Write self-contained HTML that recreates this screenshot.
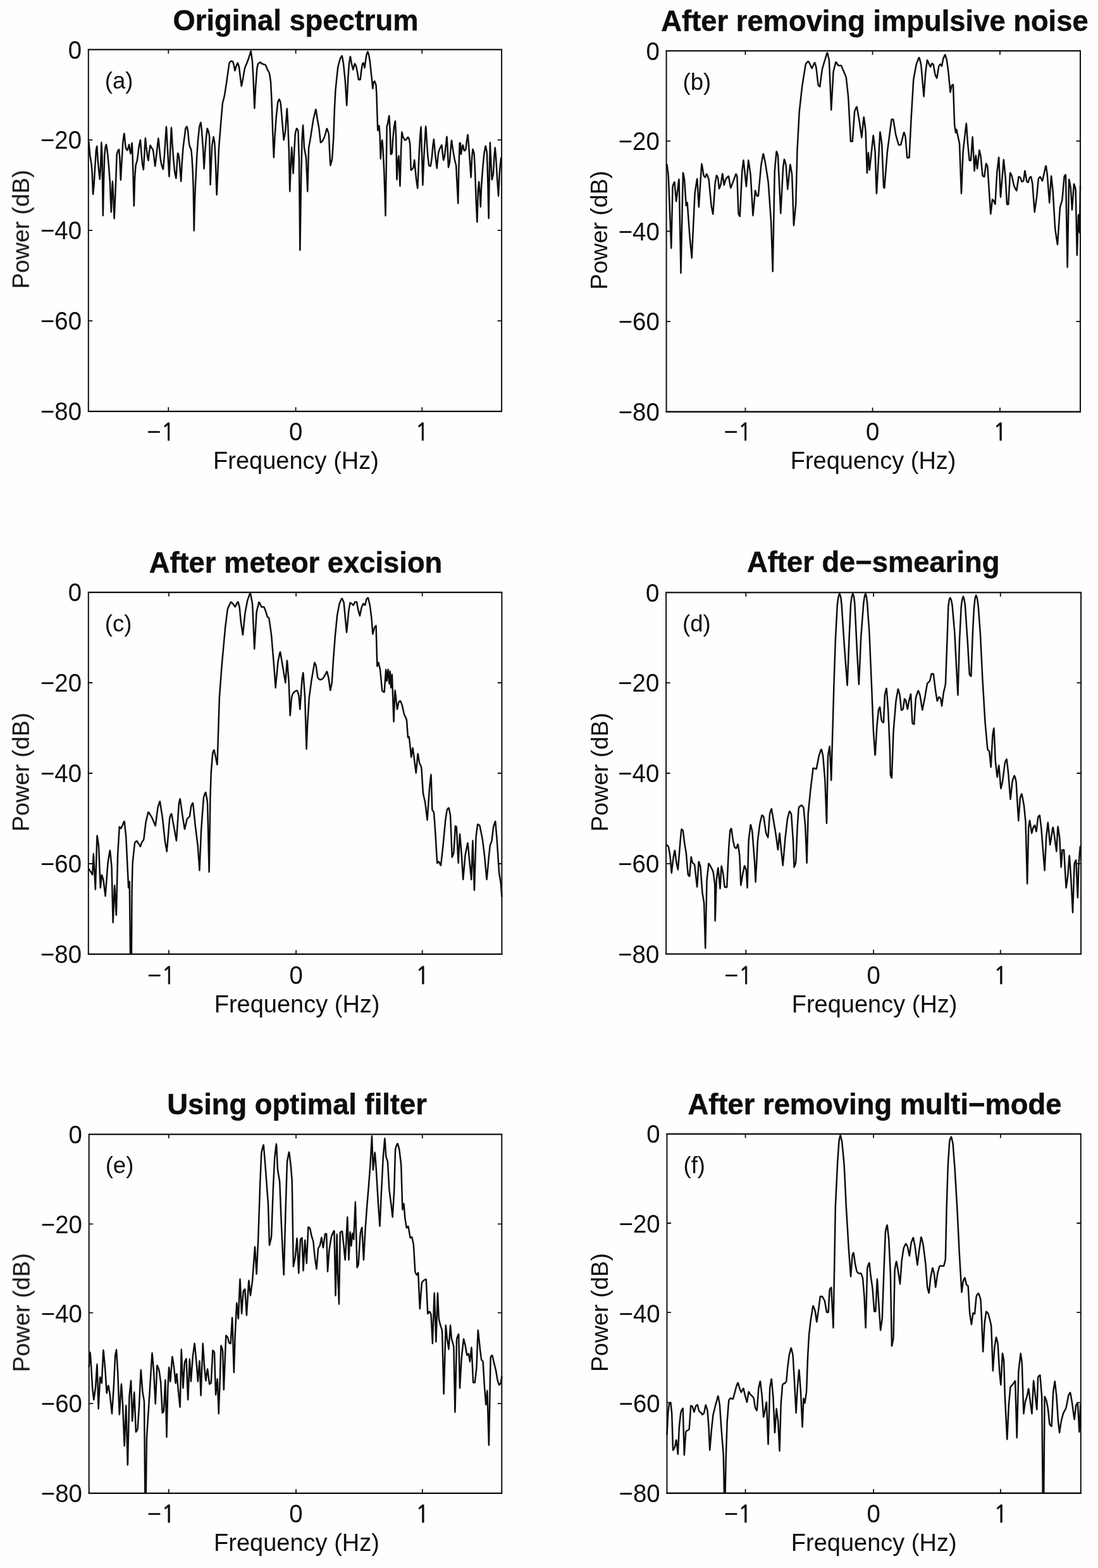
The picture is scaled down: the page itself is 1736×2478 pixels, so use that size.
<!DOCTYPE html>
<html lang="en"><head><meta charset="utf-8"><title>Spectra</title>
<style>
html,body{margin:0;padding:0;background:#fefefe;}
body{width:1736px;height:2478px;overflow:hidden;}
svg{display:block;font-family:"Liberation Sans",sans-serif;fill:#0e0e0e;}
.t{font-weight:bold;font-size:45.35px;text-anchor:middle;stroke:#0e0e0e;stroke-width:0.5px;}
.k{font-size:40px;}
.one{font-family:"NanumGothic","Liberation Sans",sans-serif;stroke:#0e0e0e;stroke-width:0.8px;font-size:37px;}
.l{font-size:38px;text-anchor:middle;}
.bx{fill:none;stroke:#0e0e0e;stroke-width:2.5;}
.tk{stroke:#0e0e0e;stroke-width:1.8;fill:none;}
.cv{fill:none;stroke:#0e0e0e;stroke-width:2.5;stroke-linejoin:round;stroke-linecap:round;}
</style></head><body>
<svg width="1736" height="2478" viewBox="0 0 1736 2478">
<defs><filter id="soft" x="0" y="0" width="1736" height="2478" filterUnits="userSpaceOnUse"><feGaussianBlur stdDeviation="0.5"/></filter></defs>
<rect width="1736" height="2478" fill="#fefefe"/>
<g filter="url(#soft)">

<g id="panel-a">
<text class="t" x="467.5" y="47.5">Original spectrum</text>
<path class="bx" style="stroke-width:2.35" d="M138.8 78.3H794.1M138.8 650.1H794.1"/>
<path class="bx" style="stroke-width:2.0" d="M139.8 78.3V650.1M793.1 78.3V650.1"/>
<path class="tk" d="M139.8 221.2h6.5M793.1 221.2h-6.5M139.8 364.2h6.5M793.1 364.2h-6.5M139.8 507.2h6.5M793.1 507.2h-6.5M266.3 78.3v6.5M266.3 650.1v-6.5M467.6 78.3v6.5M467.6 650.1v-6.5M667.3 78.3v6.5M667.3 650.1v-6.5"/>
<text class="k" text-anchor="end" transform="translate(129.0 92.5) scale(0.96 1)">0</text>
<text class="k" text-anchor="end" transform="translate(129.0 235.4) scale(0.96 1)">−20</text>
<text class="k" text-anchor="end" transform="translate(129.0 378.4) scale(0.96 1)">−40</text>
<text class="k" text-anchor="end" transform="translate(129.0 521.4) scale(0.96 1)">−60</text>
<text class="k" text-anchor="end" transform="translate(129.0 664.3) scale(0.96 1)">−80</text>
<text class="k" text-anchor="middle" transform="translate(254.3 695.6) scale(0.96 1)">−<tspan class="one">1</tspan></text>
<text class="k" text-anchor="middle" transform="translate(467.6 695.6) scale(0.96 1)">0</text>
<text class="k" text-anchor="middle" transform="translate(667.3 695.6) scale(0.96 1)"><tspan class="one">1</tspan></text>
<text class="l" x="468.0" y="740.6">Frequency (Hz)</text>
<text class="l" style="font-size:37.6px" transform="translate(45.8 362.4) rotate(-90)">Power (dB)</text>
<text class="k" style="font-size:36.6px" x="165.8" y="139.8">(a)</text>
<path class="cv" d="M140.3 223.9L142.1 243.3Q142.3 245.8 142.7 248.2L144.0 255.6Q144.4 258.1 144.6 260.6L145.5 270.6Q145.7 273.1 145.8 275.6L147.0 305.8Q147.1 308.5 147.3 305.8L148.2 296.1Q148.5 293.7 148.6 291.2L150.4 261.9Q150.5 259.5 150.7 257.0L151.7 240.1Q151.9 237.6 152.4 235.1L152.6 233.8Q153.4 228.2 153.5 233.9L154.5 250.1Q154.6 252.6 154.9 255.1L156.4 270.6Q156.7 273.1 156.9 275.6L157.6 281.9Q157.8 284.6 157.9 281.9L158.8 268.8Q159.0 266.3 159.1 263.8L160.2 229.9Q160.3 219.1 160.7 229.9L161.3 243.3Q161.5 245.8 161.5 248.3L162.8 339.4Q162.8 342.1 162.9 339.4L164.1 282.5Q164.2 280.0 164.3 277.5L165.2 248.3Q165.3 245.8 165.5 243.3L166.5 234.0Q166.7 232.1 167.3 230.2L167.4 229.8Q168.2 226.5 168.3 229.9L169.3 236.5Q169.7 238.9 169.9 241.4L171.5 257.0Q171.7 259.5 171.9 261.9L173.6 284.3Q173.8 286.8 173.9 289.3L175.0 318.5Q175.1 321.0 175.3 323.5L175.8 333.9Q175.8 336.6 175.9 333.9L176.8 309.8Q176.9 307.3 177.0 304.8L177.6 291.4Q177.9 280.7 178.2 291.4L178.9 304.8Q179.0 307.3 179.1 309.8L180.6 344.2Q180.6 346.8 180.7 344.2L181.9 316.7Q182.0 314.2 182.1 311.7L183.3 282.5Q183.4 280.0 183.5 277.5L184.6 245.5Q184.7 243.0 185.6 240.7L186.5 238.4Q186.8 237.6 187.4 236.9L187.5 236.8Q188.4 235.6 188.2 237.1L189.3 250.1Q189.5 252.6 189.6 255.1L190.8 283.3Q190.9 286.0 191.0 283.3L192.1 262.0Q192.3 259.5 192.4 257.0L194.2 227.7Q194.3 225.2 194.6 222.8L195.5 216.1Q196.4 205.4 197.0 216.2L197.5 221.4Q197.7 223.9 198.0 226.4L198.9 233.3Q199.1 234.8 200.0 236.1L200.2 236.4Q201.3 238.6 201.7 236.2L202.5 233.9Q203.2 232.1 203.6 230.2L203.7 229.8Q204.2 226.5 204.4 229.9L205.0 235.1Q205.2 237.6 205.9 240.0L206.3 241.6Q206.7 244.2 206.8 241.5L207.4 237.3Q207.7 234.8 208.0 232.3L208.2 229.6Q208.8 221.8 208.9 229.6L209.5 243.3Q209.6 245.8 209.7 248.3L210.7 284.3Q210.7 286.8 210.8 289.3L211.8 324.3Q211.8 327.0 211.9 324.3L213.1 282.5Q213.2 280.0 213.4 277.5L214.4 263.3Q214.6 260.8 215.4 258.5L216.1 256.3Q216.9 254.0 217.2 251.5L219.3 234.6Q219.6 232.1 220.1 229.6L220.9 225.7Q222.2 216.2 222.3 225.8L223.1 236.4Q223.3 238.9 223.5 241.4L224.9 257.0Q225.1 259.5 225.6 261.9L226.6 266.9Q226.9 269.5 227.0 266.8L228.1 248.3Q228.2 245.8 228.4 243.3L229.5 223.0Q229.8 212.3 230.4 223.0L231.0 229.6Q231.2 232.1 231.6 234.6L233.0 246.0Q233.3 248.5 233.9 250.9L234.3 252.5Q234.8 255.2 234.8 252.5L235.8 241.4Q236.0 238.9 236.5 236.5L237.3 231.3Q237.5 227.8 238.5 231.2L238.8 231.9Q239.5 233.5 240.6 234.7L240.8 235.0Q241.9 236.2 242.1 237.8L243.2 246.0Q243.6 248.5 243.8 251.0L245.0 261.4Q245.2 264.1 245.4 261.4L246.7 251.0Q247.0 248.5 247.2 246.0L248.5 234.6Q248.8 232.1 249.0 229.6L249.7 223.7Q250.4 213.0 251.0 223.7L251.8 232.3Q252.0 234.8 252.3 237.3L253.6 250.1Q253.8 252.6 254.3 255.1L255.3 259.7Q255.9 262.2 256.8 264.5L257.4 266.3Q258.1 268.8 258.1 266.2L259.7 248.3Q260.0 245.8 260.1 243.3L261.5 220.9Q261.6 218.4 261.8 215.9L262.6 205.2Q263.0 194.5 263.3 205.2L264.6 229.6Q264.8 232.1 264.9 234.6L266.0 254.2Q266.1 256.7 266.3 259.2L267.4 277.8Q267.5 280.5 267.6 277.8L268.8 248.3Q268.9 245.8 269.0 243.3L270.6 206.6Q270.9 195.8 271.3 206.6L272.2 222.8Q272.3 225.2 272.5 227.7L274.2 250.1Q274.3 252.6 274.6 255.1L276.1 270.6Q276.4 273.1 277.0 275.6L278.1 280.6Q278.5 283.2 278.5 280.5L279.7 261.9Q279.8 259.5 280.0 257.0L280.9 244.9Q280.9 239.2 282.1 244.7L282.5 246.1Q283.2 248.5 283.4 251.0L284.4 263.8Q284.6 266.3 284.8 268.8L286.1 285.3Q286.3 288.0 286.3 285.3L287.5 262.0Q287.6 259.5 287.8 257.0L289.2 237.3Q289.4 234.8 289.7 232.3L291.1 220.9Q291.4 218.4 291.8 215.9L293.3 203.3Q293.5 202.0 294.4 201.1L294.6 200.9Q295.8 199.1 295.8 201.2L296.7 205.0Q297.2 207.5 297.4 210.0L298.7 224.1Q299.0 226.6 299.5 229.1L300.0 231.3Q300.3 232.8 301.1 234.0L301.3 234.3Q302.1 235.5 302.3 237.0L303.2 246.0Q303.5 248.5 303.6 251.0L304.7 270.6Q304.9 273.1 304.9 275.6L305.7 298.0Q305.8 300.5 305.8 303.0L306.7 363.3Q306.8 366.0 306.8 363.3L307.8 323.5Q307.9 321.0 308.0 318.5L309.1 289.3Q309.2 286.8 309.4 284.3L311.2 248.3Q311.3 245.8 311.5 243.3L313.1 220.9Q313.3 218.4 313.6 215.9L315.1 201.7Q315.4 199.3 316.2 196.9L316.5 195.9Q317.7 190.8 317.8 196.0L318.5 202.2Q318.8 204.7 319.0 207.2L320.7 229.6Q320.9 232.1 321.0 234.6L322.6 265.5Q322.6 268.2 322.7 265.5L324.1 241.4Q324.3 238.9 324.5 236.4L325.7 220.9Q325.9 218.4 326.2 215.9L327.4 205.0Q327.5 200.9 328.5 204.8L328.7 205.3Q329.5 207.5 330.0 209.7L330.5 211.9Q331.1 214.3 331.2 216.8L332.5 290.8Q332.5 293.5 332.6 290.8L333.8 262.0Q333.9 259.5 334.0 257.0L335.1 231.9Q335.2 229.4 335.7 226.9L336.8 220.6Q337.7 211.7 338.4 220.6L339.0 224.1Q339.3 226.6 339.5 229.1L340.6 250.1Q340.7 252.6 340.8 255.1L342.6 306.6Q342.7 309.3 342.8 306.6L345.9 236.7Q346.0 234.2 346.2 231.7L348.8 199.4Q349.0 196.9 349.2 194.4L351.7 165.0Q351.9 162.5 352.6 160.1L354.3 153.8Q354.9 151.3 355.3 148.9L358.3 129.2Q358.7 126.7 359.0 124.2L362.2 101.5Q362.4 99.9 363.4 98.5L363.8 97.9Q364.4 96.4 366.0 96.9L366.3 96.9Q367.9 96.4 368.2 98.1L368.4 98.5Q369.1 99.9 369.4 101.3L371.1 110.3Q371.3 113.0 371.8 110.4L372.9 106.7Q373.6 104.3 374.6 102.0L374.8 101.5Q375.9 97.2 376.6 101.5L377.3 103.4Q378.1 105.8 378.3 108.3L379.3 116.8Q379.6 119.3 379.9 121.7L381.6 134.9Q381.8 137.6 382.1 134.9L383.5 127.7Q384.0 125.2 384.4 122.8L386.6 109.8Q387.0 107.3 388.0 105.0L390.5 99.2Q391.5 96.9 392.3 94.5L393.7 90.3Q394.5 87.9 395.2 85.5L395.7 83.8Q396.9 77.7 397.2 83.9L398.6 94.4Q399.0 96.9 399.1 99.4L400.3 119.7Q400.4 122.2 400.5 124.7L402.3 170.0Q402.4 172.7 402.5 170.0L404.0 139.7Q404.2 137.2 404.4 134.7L406.2 109.8Q406.4 107.3 407.0 104.9L407.5 102.5Q407.9 100.6 409.6 99.6L410.0 99.3Q411.8 97.4 413.0 99.7L413.3 100.0Q414.6 101.3 416.5 101.6L417.5 101.8Q419.9 102.1 420.7 104.3L422.0 108.0Q422.8 110.3 424.2 112.3L424.5 112.8Q425.8 114.8 426.2 117.2L427.7 127.2Q428.1 129.7 428.2 132.2L429.4 157.1Q429.6 159.6 429.6 162.1L431.0 201.8Q431.0 204.3 431.1 206.8L432.8 247.6Q432.8 250.3 432.9 247.6L434.6 214.3Q434.8 211.8 435.0 209.3L436.8 184.4Q437.0 181.9 437.3 179.5L439.0 163.3Q439.3 161.0 440.3 159.0L440.5 158.6Q441.6 154.9 442.3 158.7L442.9 160.2Q443.7 162.5 443.9 165.0L445.8 186.9Q446.0 189.4 446.2 191.9L448.5 220.0Q448.6 222.7 448.9 220.0L450.8 209.8Q451.2 207.3 451.4 204.8L452.5 188.9Q452.7 186.4 452.9 183.9L453.3 176.7Q453.8 166.0 454.1 176.7L455.1 194.4Q455.2 196.9 455.3 199.4L456.6 231.7Q456.7 234.2 456.8 236.7L458.2 301.3Q458.2 304.0 458.3 301.3L459.6 266.5Q459.7 264.0 459.8 261.5L460.9 237.9Q461.2 227.1 461.5 237.9L462.0 246.6Q462.1 249.1 462.2 251.6L463.5 273.0Q463.6 275.7 463.7 273.0L465.0 244.1Q465.1 241.6 465.2 239.1L466.7 212.8Q466.9 210.3 467.6 207.9L468.6 204.4Q468.9 201.7 470.1 204.2L470.3 204.5Q471.3 205.8 471.4 207.5L472.7 246.6Q472.8 249.1 472.9 251.6L474.3 394.2Q474.3 396.9 474.4 394.2L476.1 281.5Q476.1 279.0 476.2 276.5L477.5 221.8Q477.6 219.3 477.8 216.8L478.7 202.9Q479.1 192.1 479.4 202.9L480.9 231.7Q481.0 234.2 481.5 236.6L483.5 246.7Q484.0 249.1 484.1 251.6L486.2 301.3Q486.3 304.0 486.3 301.3L488.0 236.7Q488.1 234.2 488.5 231.7L490.3 221.7Q490.7 219.3 491.1 216.8L494.9 191.9Q495.2 189.4 495.8 187.0L498.0 178.1Q499.6 167.5 500.3 178.2L501.6 186.9Q501.9 189.4 502.4 191.9L503.7 198.9Q504.2 201.3 504.5 203.8L506.7 223.9Q506.5 226.0 508.0 224.6L508.3 224.4Q509.4 223.7 510.0 222.5L512.0 218.5Q513.1 216.3 513.8 213.9L515.7 206.9Q516.8 199.6 518.2 206.9L519.1 209.4Q519.9 211.8 520.0 214.3L520.8 231.7Q520.9 234.2 521.0 236.7L522.3 260.3Q522.3 263.0 522.8 260.3L524.4 254.5Q525.1 252.1 525.2 249.6L527.1 221.7Q527.3 219.3 527.4 216.8L528.7 177.0Q528.8 174.5 528.9 172.0L530.2 147.1Q530.3 144.6 530.5 142.1L533.8 109.8Q534.0 107.3 534.6 104.9L537.2 94.7Q537.8 92.4 539.1 90.4L539.4 89.9Q541.1 86.2 541.2 90.3L542.5 97.4Q543.0 99.9 543.2 102.3L545.7 127.2Q546.0 129.7 546.1 132.2L548.1 165.5Q548.2 168.2 548.3 165.5L550.3 124.7Q550.4 122.2 550.6 119.7L551.8 102.3Q551.9 99.9 552.4 97.4L553.0 93.7Q553.9 84.6 554.7 93.7L555.3 97.4Q555.7 99.9 556.3 102.3L557.9 108.8Q558.2 111.5 558.6 108.9L560.4 102.5Q560.7 99.2 561.9 102.3L562.1 102.6Q563.1 104.3 563.5 106.3L564.9 113.8Q565.4 116.3 565.8 118.7L566.7 124.8Q566.5 126.4 568.1 126.0L568.3 126.0Q570.0 126.4 569.7 124.8L571.0 114.3Q571.3 111.8 571.7 109.3L572.7 102.6Q572.8 101.3 573.6 100.3L573.8 100.1Q574.8 98.2 574.9 100.4L576.2 105.9Q576.6 108.5 576.8 105.8L578.3 94.0Q578.6 91.6 579.1 89.1L579.7 85.8Q580.0 84.4 580.7 83.1L580.8 82.8Q581.5 80.4 581.9 82.9L582.6 84.9Q583.3 87.3 583.7 89.7L584.7 96.3Q585.1 98.8 585.3 101.2L586.3 110.6Q586.5 113.1 586.8 115.6L587.9 125.0Q588.2 127.5 588.4 130.0L589.2 139.0Q589.4 141.6 589.5 139.0L590.4 131.6Q590.5 130.4 591.3 129.4L591.5 129.2Q592.4 127.4 592.7 129.4L593.4 131.0Q594.4 133.3 594.6 135.7L595.3 146.6Q595.4 149.1 595.5 151.6L596.2 175.3Q596.3 177.8 596.4 180.3L597.2 205.1Q597.2 207.8 597.5 205.1L598.2 200.0Q598.3 199.4 598.8 199.1L598.9 199.0Q599.6 198.3 599.5 199.3L600.4 211.3Q600.6 213.8 600.7 216.3L601.7 249.6Q601.7 252.3 601.8 249.7L602.9 230.6Q603.0 228.1 603.4 225.7L603.7 224.2Q604.3 218.4 604.5 224.2L605.3 232.8Q605.5 235.3 605.6 237.8L607.2 268.8Q607.3 271.3 607.4 273.8L609.5 339.5Q609.5 342.2 609.5 339.5L610.6 273.8Q610.7 271.3 610.7 268.8L611.6 201.4Q611.7 199.4 612.3 197.5L612.5 197.0Q613.1 195.1 613.4 193.1L614.3 188.0Q615.5 177.5 615.6 188.0L616.5 204.1Q616.7 206.6 616.8 209.1L617.8 242.8Q617.5 244.7 618.7 243.3L619.0 243.2Q619.9 242.5 619.9 241.4L620.9 223.5Q621.0 221.0 621.3 218.5L622.9 201.9Q623.2 199.4 623.7 196.9L624.1 194.6Q625.1 187.6 625.1 194.7L625.9 211.3Q626.0 213.8 626.1 216.3L627.4 282.7Q627.5 285.4 627.6 282.7L628.8 259.4Q628.9 256.9 629.2 254.4L629.7 250.6Q630.5 241.2 630.6 250.6L632.4 292.8Q632.5 295.5 632.5 292.8L633.9 245.0Q633.9 242.5 634.0 240.0L635.2 212.0Q635.1 204.9 636.2 211.9L636.6 214.2Q637.1 216.6 638.5 218.7L639.8 220.7Q640.3 222.3 641.4 221.0L641.6 220.9Q642.6 220.2 643.2 219.3L644.1 217.9Q645.0 215.6 645.9 217.9L646.0 218.2Q646.9 219.5 647.1 221.0L647.9 225.7Q648.3 228.1 648.4 230.6L649.7 267.7Q649.4 270.1 650.7 268.1L651.0 267.9Q651.9 267.0 652.8 266.0L652.9 265.8Q653.8 264.8 653.9 263.5L654.6 257.7Q655.3 247.2 655.7 257.7L656.7 268.8Q656.9 271.3 657.2 273.8L658.1 283.2Q658.4 285.7 658.8 288.1L660.0 296.4Q660.3 299.1 660.3 296.4L661.9 259.4Q662.0 256.9 662.1 254.4L663.7 223.5Q663.8 221.0 664.0 218.5L665.1 205.4Q665.7 194.6 665.8 205.4L666.9 240.0Q667.0 242.5 667.1 245.0L668.4 291.3Q668.4 294.0 668.5 291.3L669.8 259.4Q669.9 256.9 670.0 254.4L671.2 230.6Q671.3 228.1 671.5 225.7L672.8 204.7Q673.2 193.9 673.6 204.7L674.5 218.5Q674.6 221.0 674.8 223.5L676.2 244.3Q676.4 246.8 676.7 249.3L678.1 260.8Q678.2 261.9 679.3 262.3L679.6 262.3Q681.0 263.2 680.9 261.5L682.4 252.2Q682.8 249.7 683.0 247.2L684.4 230.6Q684.6 228.1 685.0 225.7L685.3 223.4Q686.1 216.4 686.3 223.4L687.7 240.0Q687.9 242.5 688.2 245.0L690.6 264.8Q690.8 267.4 690.9 264.8L692.7 245.0Q692.9 242.5 693.6 240.1L694.3 237.7Q695.0 235.3 696.2 233.1L696.9 231.8Q698.8 226.4 698.7 232.1L699.5 240.0Q699.8 242.5 700.1 245.0L700.9 251.8Q701.0 254.5 701.5 251.9L702.3 249.2Q703.0 246.8 703.2 244.4L704.8 230.6Q705.1 228.1 705.4 225.7L705.9 221.0Q706.7 210.5 706.9 221.1L707.9 240.0Q708.0 242.5 708.1 245.0L708.9 263.3Q708.9 266.0 709.3 263.3L710.3 259.3Q710.9 256.9 711.1 254.4L712.4 237.8Q712.6 235.3 712.8 232.8L713.4 226.9Q714.0 216.2 714.8 226.9L715.6 232.9Q715.9 235.3 716.3 237.8L718.4 250.1Q718.8 252.6 719.5 255.0L720.5 258.8Q721.2 261.2 721.3 263.7L722.2 283.2Q722.4 285.7 722.5 288.2L724.2 320.1Q724.3 322.8 724.3 320.1L725.2 273.8Q725.2 271.3 725.3 268.8L726.7 226.5Q726.5 225.8 727.2 226.0L727.3 226.0Q728.0 225.8 727.9 226.5L728.7 242.5Q728.8 245.2 729.1 242.5L729.9 237.8Q730.3 235.3 730.8 232.9L731.1 231.8Q731.7 226.5 732.4 231.8L733.6 237.0Q733.5 239.0 735.0 237.6L735.2 237.4Q736.3 236.8 736.5 235.5L737.9 223.4Q738.2 221.0 738.6 218.5L739.0 216.2Q739.7 209.2 740.0 216.3L740.8 225.7Q741.1 228.1 741.2 230.6L742.3 247.2Q742.5 249.7 742.7 252.2L744.5 279.1Q744.7 281.8 744.7 279.1L746.0 252.2Q746.1 249.7 746.3 247.2L747.2 238.7Q747.3 232.7 748.5 238.6L749.0 240.1Q749.7 242.5 749.8 245.0L751.0 268.8Q751.1 271.3 751.2 273.8L752.5 311.9Q752.6 314.4 752.7 316.9L754.3 349.6Q754.4 352.3 754.5 349.6L755.8 302.5Q755.9 300.0 756.1 297.5L756.7 292.3Q757.4 281.6 757.7 292.4L758.6 304.7Q758.7 307.2 758.9 309.7L759.7 325.8Q759.7 328.5 759.8 325.8L761.1 295.3Q761.2 292.8 761.4 290.3L763.2 266.6Q763.3 264.1 763.6 261.6L765.2 245.0Q765.5 242.5 765.9 240.1L766.9 234.6Q767.6 226.9 768.6 234.5L769.2 237.2Q769.8 239.6 769.9 242.1L771.2 283.2Q771.2 285.7 771.3 288.2L772.6 343.8Q772.7 346.5 772.7 343.8L773.8 273.8Q773.8 271.3 773.9 268.8L774.7 230.6Q774.8 219.8 775.1 230.5L776.2 254.4Q776.3 256.9 776.4 259.4L777.6 282.7Q777.6 285.4 778.1 282.8L779.3 278.0Q779.9 275.6 780.0 273.1L781.2 252.2Q781.3 249.7 781.5 247.2L782.2 238.4Q782.7 227.7 783.2 238.4L784.0 247.2Q784.2 249.7 784.3 252.2L786.2 283.2Q786.3 285.7 786.5 288.1L788.0 308.6Q788.1 311.3 788.1 308.6L789.8 273.8Q789.9 271.3 790.2 268.8L792.1 249.7"/>
</g>
<g id="panel-b">
<text class="t" x="1383" y="49.2">After removing impulsive noise</text>
<path class="bx" style="stroke-width:2.35" d="M1052.6 80.3H1709.0M1052.6 650.7H1709.0"/>
<path class="bx" style="stroke-width:2.0" d="M1053.6 80.3V650.7M1708.0 80.3V650.7"/>
<path class="tk" d="M1053.6 222.9h6.5M1708.0 222.9h-6.5M1053.6 365.5h6.5M1708.0 365.5h-6.5M1053.6 508.1h6.5M1708.0 508.1h-6.5M1178.4 80.3v6.5M1178.4 650.7v-6.5M1379.6 80.3v6.5M1379.6 650.7v-6.5M1581.0 80.3v6.5M1581.0 650.7v-6.5"/>
<text class="k" text-anchor="end" transform="translate(1042.8 94.5) scale(0.96 1)">0</text>
<text class="k" text-anchor="end" transform="translate(1042.8 237.1) scale(0.96 1)">−20</text>
<text class="k" text-anchor="end" transform="translate(1042.8 379.7) scale(0.96 1)">−40</text>
<text class="k" text-anchor="end" transform="translate(1042.8 522.3) scale(0.96 1)">−60</text>
<text class="k" text-anchor="end" transform="translate(1042.8 664.9) scale(0.96 1)">−80</text>
<text class="k" text-anchor="middle" transform="translate(1166.4 696.2) scale(0.96 1)">−<tspan class="one">1</tspan></text>
<text class="k" text-anchor="middle" transform="translate(1379.6 696.2) scale(0.96 1)">0</text>
<text class="k" text-anchor="middle" transform="translate(1581.0 696.2) scale(0.96 1)"><tspan class="one">1</tspan></text>
<text class="l" x="1380.6" y="741.2">Frequency (Hz)</text>
<text class="l" style="font-size:37.6px" transform="translate(959.6 363.7) rotate(-90)">Power (dB)</text>
<text class="k" style="font-size:36.6px" x="1079.6" y="141.8">(b)</text>
<path class="cv" d="M1054.6 260.3L1056.5 275.7Q1056.8 278.2 1056.9 280.7L1061.2 390.9Q1061.3 393.6 1061.3 390.9L1063.5 296.4Q1063.5 293.9 1064.5 291.6L1065.1 290.2Q1066.8 284.6 1066.7 290.4L1069.0 317.0Q1069.1 319.7 1069.3 317.0L1072.8 288.6Q1073.8 277.9 1073.7 288.7L1076.5 430.1Q1076.5 432.8 1076.5 430.1L1079.8 277.3Q1079.5 268.9 1080.9 277.1L1081.5 280.2Q1082.1 282.7 1082.2 285.2L1084.7 323.7Q1084.6 326.4 1085.2 323.8L1085.8 322.1Q1086.8 317.6 1086.8 322.3L1090.2 369.7Q1090.4 372.2 1090.6 374.7L1093.6 406.6Q1093.8 409.3 1093.8 406.6L1098.5 307.6Q1098.7 305.1 1099.0 302.6L1101.3 287.5Q1102.5 276.8 1102.6 287.6L1104.8 326.0Q1104.9 328.7 1105.0 326.0L1109.0 264.0Q1109.2 253.3 1110.4 264.0L1112.5 276.8Q1112.8 278.2 1113.8 279.2L1114.0 279.4Q1115.2 281.4 1115.5 279.1L1116.2 277.4Q1117.2 272.8 1118.3 277.3L1119.6 280.4Q1120.6 282.7 1120.8 285.2L1124.4 322.7Q1124.6 325.2 1125.1 327.7L1127.0 337.2Q1127.4 339.8 1127.4 337.2L1130.5 291.9Q1130.7 289.4 1131.1 286.9L1132.6 278.9Q1132.6 275.8 1133.9 278.6L1134.1 278.9Q1135.1 280.4 1135.3 282.3L1136.8 296.9Q1136.8 299.5 1137.5 297.0L1138.7 294.0Q1139.6 291.6 1140.0 289.2L1141.4 279.7Q1142.4 269.0 1143.1 279.7L1144.6 291.3Q1144.7 293.9 1145.2 291.3L1146.8 285.1Q1147.5 282.7 1149.2 280.9L1149.9 280.2Q1152.5 276.3 1152.4 281.0L1155.0 295.8Q1155.2 298.4 1155.8 295.8L1157.8 290.6Q1158.7 288.3 1159.5 285.9L1163.0 276.5Q1163.5 273.6 1164.4 276.4L1164.6 276.7Q1165.4 278.2 1165.4 279.9L1167.5 336.8Q1167.6 338.7 1168.6 340.2L1169.0 340.8Q1170.2 343.1 1169.9 340.5L1173.1 274.0Q1173.2 271.5 1173.5 269.0L1174.7 258.4Q1175.5 247.7 1176.1 258.4L1179.8 293.5Q1179.9 296.2 1180.0 293.5L1182.8 258.4Q1183.1 247.7 1184.1 258.4L1186.3 273.5Q1186.6 276.0 1186.8 278.5L1190.4 339.4Q1190.4 342.1 1190.6 339.4L1193.7 304.8Q1193.7 297.3 1195.2 304.6L1196.4 308.6Q1196.4 309.9 1197.7 309.6L1197.9 309.6Q1199.3 310.0 1199.0 308.5L1203.2 262.8Q1203.4 260.3 1203.9 257.8L1205.7 248.3Q1206.7 237.7 1208.0 248.3L1209.6 255.6Q1210.1 258.1 1210.5 260.5L1214.2 284.7Q1214.6 287.2 1214.8 289.7L1218.9 347.4Q1219.1 349.8 1219.2 352.3L1221.7 427.8Q1221.8 430.5 1221.8 427.8L1224.7 274.0Q1224.7 271.5 1224.9 269.0L1227.4 241.7Q1227.3 236.9 1228.6 241.5L1228.9 242.3Q1229.8 244.6 1230.0 247.1L1234.3 336.0Q1234.3 338.7 1234.4 336.0L1238.0 267.3Q1238.1 264.8 1238.5 262.3L1239.4 255.5Q1239.7 248.1 1241.1 255.4L1241.9 257.9Q1242.6 260.3 1242.8 262.8L1245.2 298.0Q1245.3 300.7 1245.4 298.0L1248.7 265.1Q1249.2 254.4 1250.4 265.1L1251.8 273.5Q1252.2 276.0 1252.3 278.5L1254.9 355.1Q1254.9 357.8 1255.1 355.1L1258.0 325.5Q1258.3 323.0 1258.3 320.5L1260.5 238.2Q1260.5 235.7 1260.7 233.2L1263.7 177.7Q1263.9 175.2 1264.2 172.7L1268.1 137.4Q1268.4 134.9 1268.8 132.5L1273.6 102.6Q1274.0 100.2 1275.8 98.7L1276.2 98.4Q1278.2 95.5 1279.2 98.9L1279.5 99.3Q1280.7 101.3 1281.6 103.5L1283.0 106.7Q1283.6 109.2 1284.2 106.7L1286.6 101.7Q1288.2 96.1 1289.1 101.9L1289.6 103.4Q1290.3 105.8 1290.6 108.3L1293.5 133.4Q1293.7 134.9 1294.9 135.9L1295.2 136.2Q1296.7 138.1 1296.5 135.7L1299.4 112.8Q1299.7 110.3 1300.4 107.9L1303.5 97.0Q1304.2 94.6 1305.0 92.3L1306.3 88.1Q1308.1 78.8 1309.3 88.2L1310.3 92.2Q1310.9 94.6 1311.0 97.1L1314.2 172.6Q1314.2 175.3 1314.3 172.6L1317.5 115.0Q1317.6 112.5 1318.3 110.1L1320.8 100.9Q1321.3 95.8 1323.4 100.5L1324.6 102.3Q1325.2 104.1 1326.9 103.6L1327.9 103.6Q1330.4 102.8 1330.7 105.4L1332.3 109.1Q1333.3 111.4 1334.3 113.7L1336.7 119.2Q1337.8 121.5 1338.0 124.0L1340.9 150.3Q1341.1 152.8 1341.3 155.3L1344.9 222.0Q1344.4 223.9 1346.2 223.4L1346.5 223.4Q1348.3 223.9 1347.9 222.1L1351.0 177.7Q1351.2 175.2 1352.3 173.0L1353.0 171.5Q1354.9 166.0 1355.2 171.8L1357.4 184.0Q1357.9 186.4 1358.3 188.9L1362.2 216.3Q1362.4 219.0 1362.5 216.3L1365.1 190.1Q1365.7 179.4 1366.5 190.1L1368.3 204.1Q1368.7 206.6 1368.7 209.1L1370.8 272.2Q1370.9 274.9 1371.0 272.2L1372.5 246.1Q1372.9 235.4 1373.3 246.1L1374.6 267.8Q1374.7 270.4 1374.9 267.8L1380.1 219.2Q1380.7 208.5 1381.4 219.2L1383.4 237.7Q1383.7 240.1 1383.7 242.6L1385.8 304.7Q1385.9 307.4 1386.0 304.7L1391.1 213.7Q1391.3 202.9 1392.3 213.6L1393.8 224.2Q1394.2 226.7 1394.3 229.2L1397.1 295.3Q1397.1 296.1 1397.7 296.6L1397.8 296.7Q1398.6 297.7 1398.4 296.5L1402.7 242.6Q1402.9 240.1 1403.2 237.7L1409.4 189.9Q1409.2 188.2 1410.8 188.7L1411.1 188.7Q1412.7 188.2 1412.5 189.8L1415.9 210.8Q1416.3 213.3 1417.0 215.7L1420.4 227.5Q1420.3 229.5 1422.3 229.0L1422.6 229.0Q1424.6 229.5 1424.5 227.5L1428.5 211.9Q1429.2 206.4 1430.3 211.8L1430.7 213.1Q1431.5 215.5 1431.7 218.0L1434.1 247.6Q1433.7 249.7 1435.7 249.1L1436.1 249.1Q1438.1 249.7 1437.6 247.6L1440.8 184.4Q1440.9 181.9 1441.1 179.4L1444.1 128.5Q1444.3 126.0 1444.7 123.5L1448.3 103.8Q1448.8 101.3 1449.7 99.0L1451.3 95.2Q1453.5 86.8 1454.5 95.4L1455.5 98.9Q1456.1 101.3 1456.4 103.8L1460.5 151.3Q1460.6 154.0 1460.7 151.3L1463.1 117.3Q1463.3 114.8 1463.6 112.3L1465.6 97.9Q1465.6 92.1 1467.3 97.6L1468.0 99.3Q1468.9 101.3 1469.9 103.4L1470.5 104.5Q1471.2 106.9 1471.7 104.4L1473.0 101.3Q1473.2 99.6 1474.4 100.7L1474.6 100.8Q1475.6 101.3 1475.8 102.5L1478.1 115.7Q1478.5 118.1 1479.6 120.4L1480.6 122.4Q1481.4 124.9 1481.5 122.3L1484.3 105.0Q1484.6 103.6 1485.6 102.6L1485.8 102.4Q1486.9 100.5 1487.6 102.5L1488.2 103.5Q1489.3 105.8 1489.3 103.2L1490.9 94.8Q1491.3 92.4 1492.4 90.1L1492.9 88.9Q1494.4 83.8 1495.1 89.1L1496.1 92.2Q1496.9 94.6 1497.2 97.1L1499.3 112.3Q1499.6 114.8 1499.8 117.3L1502.4 144.6Q1502.4 147.3 1502.8 144.6L1504.5 136.0Q1504.7 134.9 1505.7 134.4L1506.0 134.3Q1507.4 133.2 1507.0 134.9L1509.1 195.1Q1509.2 197.6 1509.6 200.1L1510.8 208.4Q1511.0 211.1 1511.3 208.5L1511.6 206.8Q1512.1 202.3 1512.7 206.8L1516.5 224.3Q1517.0 226.7 1517.1 229.2L1519.9 304.7Q1520.0 307.4 1520.0 304.7L1522.5 242.6Q1522.6 240.1 1522.9 237.7L1527.1 200.2Q1527.9 189.5 1528.2 200.2L1529.9 224.2Q1530.0 226.7 1530.3 229.2L1532.6 252.6Q1532.4 254.0 1533.7 253.6L1533.9 253.6Q1535.3 254.0 1535.0 252.6L1537.2 221.5Q1537.7 210.7 1538.0 221.5L1540.5 268.9Q1540.5 271.6 1540.7 268.9L1542.3 250.6Q1542.8 239.8 1543.4 250.6L1544.9 265.5Q1545.0 268.2 1545.2 265.5L1547.9 241.4Q1548.2 233.1 1549.4 241.3L1550.1 244.4Q1550.6 246.9 1550.9 249.4L1553.4 276.9Q1553.5 278.2 1554.7 278.7L1555.0 278.8Q1556.6 280.0 1556.4 278.0L1558.8 260.3Q1558.9 256.4 1560.1 260.1L1560.4 260.5Q1561.4 262.5 1561.5 264.8L1566.2 337.2Q1566.3 339.8 1566.5 337.2L1568.8 316.6Q1568.6 314.2 1570.0 316.2L1570.2 316.4Q1571.2 317.4 1571.8 318.7L1572.9 321.6Q1573.7 324.1 1573.5 321.5L1576.2 274.0Q1576.4 271.5 1576.7 269.0L1578.5 253.9Q1579.5 243.2 1579.5 254.0L1581.9 310.3Q1581.9 313.0 1582.1 310.3L1584.0 287.4Q1584.2 284.9 1584.4 282.4L1586.4 257.3Q1586.9 246.6 1587.4 257.3L1589.6 280.2Q1589.8 282.7 1589.9 285.2L1592.0 322.0Q1591.7 323.4 1593.1 323.0L1593.3 323.0Q1594.7 323.4 1594.3 322.0L1597.0 275.4Q1596.8 270.5 1598.4 275.1L1598.8 276.0Q1599.9 278.2 1600.4 280.7L1602.7 291.4Q1603.2 293.9 1604.4 296.1L1606.6 300.4Q1607.5 302.8 1607.5 300.2L1610.4 280.6Q1610.2 278.6 1611.8 279.8L1612.1 279.9Q1613.3 280.4 1613.7 281.7L1615.1 285.9Q1615.2 287.9 1616.8 286.7L1617.0 286.5Q1618.2 286.0 1618.4 284.7L1619.7 275.2Q1620.4 264.5 1621.4 275.2L1623.2 286.1Q1623.4 287.2 1624.4 287.7L1624.6 287.8Q1625.9 288.9 1625.9 287.2L1627.6 281.5Q1627.9 280.4 1628.9 279.9L1629.1 279.8Q1630.4 278.7 1630.3 280.4L1631.8 287.0Q1632.3 289.4 1632.5 291.9L1635.6 333.8Q1635.7 336.5 1635.9 333.8L1638.7 314.3Q1639.1 311.8 1639.3 309.3L1641.8 283.1Q1642.0 281.6 1643.2 280.6L1643.4 280.3Q1644.9 278.4 1645.4 280.7L1647.3 284.7Q1648.1 287.2 1648.3 284.6L1652.3 267.3Q1653.8 256.7 1654.5 267.3L1655.5 273.5Q1655.8 276.0 1656.0 278.5L1659.1 319.2Q1659.2 321.9 1659.3 319.2L1661.7 283.1Q1662.0 272.3 1662.7 283.1L1664.5 300.3Q1664.8 302.8 1664.9 305.3L1668.0 358.5Q1668.2 361.0 1668.5 363.5L1671.7 385.3Q1672.0 388.0 1672.1 385.3L1675.8 330.0Q1676.0 327.5 1676.7 325.1L1678.6 318.7Q1679.4 316.3 1679.6 313.8L1682.6 279.6Q1682.7 278.2 1683.7 277.2L1683.9 277.0Q1685.3 275.0 1685.0 277.4L1687.6 421.1Q1687.6 423.8 1687.7 421.1L1690.0 288.7Q1689.7 277.9 1691.3 288.6L1692.3 293.7Q1692.8 296.1 1692.9 298.6L1694.9 330.4Q1695.0 333.1 1695.1 330.4L1697.7 294.2Q1697.6 287.6 1699.1 294.0L1699.8 296.0Q1700.6 298.4 1700.7 300.9L1702.8 402.1Q1702.9 404.8 1702.9 402.1L1704.9 344.7Q1705.0 333.9 1705.5 344.6L1706.8 366.3Q1706.9 369.0 1706.9 366.3L1708.0 293.9"/>
</g>
<g id="panel-c">
<text class="t" x="467.5" y="904.6">After meteor excision</text>
<path class="bx" style="stroke-width:2.35" d="M138.8 936.1H794.4M138.8 1507.9H794.4"/>
<path class="bx" style="stroke-width:2.0" d="M139.8 936.1V1507.9M793.4 936.1V1507.9"/>
<path class="tk" d="M139.8 1079.0h6.5M793.4 1079.0h-6.5M139.8 1222.0h6.5M793.4 1222.0h-6.5M139.8 1365.0h6.5M793.4 1365.0h-6.5M267.0 936.1v6.5M267.0 1507.9v-6.5M468.1 936.1v6.5M468.1 1507.9v-6.5M667.7 936.1v6.5M667.7 1507.9v-6.5"/>
<text class="k" text-anchor="end" transform="translate(129.0 950.3) scale(0.96 1)">0</text>
<text class="k" text-anchor="end" transform="translate(129.0 1093.2) scale(0.96 1)">−20</text>
<text class="k" text-anchor="end" transform="translate(129.0 1236.2) scale(0.96 1)">−40</text>
<text class="k" text-anchor="end" transform="translate(129.0 1379.2) scale(0.96 1)">−60</text>
<text class="k" text-anchor="end" transform="translate(129.0 1522.1) scale(0.96 1)">−80</text>
<text class="k" text-anchor="middle" transform="translate(255.0 1554.6) scale(0.96 1)">−<tspan class="one">1</tspan></text>
<text class="k" text-anchor="middle" transform="translate(468.1 1554.6) scale(0.96 1)">0</text>
<text class="k" text-anchor="middle" transform="translate(667.7 1554.6) scale(0.96 1)"><tspan class="one">1</tspan></text>
<text class="l" x="469.6" y="1599.6">Frequency (Hz)</text>
<text class="l" style="font-size:37.6px" transform="translate(45.8 1220.2) rotate(-90)">Power (dB)</text>
<text class="k" style="font-size:36.6px" x="165.8" y="997.6">(c)</text>
<path class="cv" d="M140.4 1373.3L141.9 1375.4Q143.1 1377.2 144.2 1379.0L145.4 1381.1Q146.5 1383.5 146.3 1380.9L147.5 1354.4Q147.7 1343.7 148.1 1354.4L150.8 1404.4Q150.9 1407.1 150.9 1404.4L153.3 1325.7Q153.2 1314.9 154.4 1325.6L155.8 1335.5Q156.1 1338.0 156.2 1340.5L158.7 1401.8Q158.7 1404.5 158.9 1401.8L160.5 1386.1Q160.5 1379.5 162.0 1385.9L162.6 1387.9Q163.4 1390.2 163.7 1392.7L166.4 1414.9Q166.6 1417.6 166.7 1414.9L170.3 1366.6Q170.5 1364.1 170.9 1361.7L172.9 1349.1Q174.0 1338.5 174.5 1349.2L176.3 1366.9Q176.5 1369.3 176.6 1371.8L178.6 1456.7Q178.6 1459.4 178.7 1456.7L180.9 1404.1Q181.2 1393.3 181.5 1404.1L183.7 1444.9Q183.8 1447.6 183.9 1444.9L186.1 1353.6Q186.2 1351.1 186.3 1348.6L188.7 1308.3Q188.3 1305.5 190.0 1307.8L190.3 1308.2Q191.6 1310.2 192.0 1307.9L194.3 1302.8Q197.3 1293.1 197.2 1303.3L199.0 1319.8Q199.2 1322.3 199.4 1324.8L203.1 1401.8Q203.1 1404.5 203.4 1401.8L204.0 1397.6Q205.0 1389.1 204.8 1397.6L206.0 1506.7Q205.7 1507.8 206.8 1507.5L207.0 1507.5Q208.2 1507.8 207.9 1506.7L208.6 1405.8Q208.6 1403.3 208.7 1400.8L209.6 1366.6Q209.7 1364.1 209.9 1361.6L212.9 1333.3Q213.1 1331.5 214.5 1330.3L214.8 1330.0Q216.4 1327.8 217.2 1330.4L221.2 1336.7Q222.1 1339.1 222.4 1336.6L224.0 1331.7Q224.6 1330.2 225.7 1329.0L226.0 1328.7Q227.2 1327.5 227.4 1325.9L230.3 1301.3Q230.6 1298.8 231.2 1296.4L233.5 1287.2Q234.0 1280.1 236.8 1286.7L238.3 1288.9Q239.7 1291.0 240.7 1293.3L245.2 1304.0Q245.9 1306.5 245.9 1303.9L249.3 1277.8Q249.7 1275.3 250.5 1272.9L251.4 1270.3Q253.1 1262.8 253.5 1270.4L256.3 1288.5Q256.7 1291.0 257.0 1293.5L260.4 1325.1Q260.6 1327.5 261.0 1330.0L263.5 1344.4Q263.8 1347.0 263.9 1344.3L268.2 1293.5Q268.5 1291.0 269.6 1288.7L269.9 1288.1Q271.3 1283.8 271.6 1288.3L274.5 1304.2Q275.0 1306.6 275.4 1309.1L278.6 1327.4Q279.0 1330.0 279.0 1327.4L282.7 1272.6Q282.8 1270.1 283.4 1267.6L283.8 1265.8Q284.8 1259.4 285.2 1265.8L287.7 1283.3Q288.1 1285.7 288.4 1288.2L291.7 1309.1Q291.9 1311.7 292.3 1309.1L295.4 1295.6Q295.9 1293.6 297.7 1292.4L298.0 1292.1Q299.8 1291.0 300.1 1288.9L302.1 1274.8Q302.4 1272.7 303.6 1270.9L303.9 1270.5Q305.4 1267.2 305.3 1270.9L308.7 1304.2Q309.0 1306.6 309.3 1309.1L312.6 1335.5Q312.9 1338.0 313.0 1340.5L315.4 1374.4Q315.5 1377.1 315.5 1374.4L318.0 1314.4Q318.1 1311.9 318.3 1309.4L321.8 1262.1Q322.0 1259.6 322.9 1257.3L323.7 1255.3Q325.4 1248.9 325.8 1255.5L327.6 1265.0Q328.0 1267.5 328.1 1270.0L330.6 1377.0Q330.6 1379.7 330.7 1377.0L332.4 1262.1Q332.5 1259.6 332.5 1257.1L333.7 1222.9Q333.8 1220.4 334.0 1217.9L336.2 1191.1Q336.4 1189.1 337.3 1187.3L337.5 1186.9Q338.7 1183.7 338.9 1187.1L340.5 1194.5Q341.1 1196.9 341.6 1199.4L343.1 1207.2Q343.5 1209.9 343.5 1207.2L346.8 1105.4Q346.8 1102.9 347.0 1100.4L350.6 1053.1Q350.8 1050.6 351.0 1048.1L355.8 995.6Q356.0 993.1 356.3 990.7L359.6 964.3Q359.9 961.8 361.0 959.6L364.3 953.0Q364.9 950.2 366.5 952.5L366.8 952.8Q368.3 954.0 369.3 955.5L370.8 957.9Q371.7 960.2 372.4 957.9L374.2 954.3Q376.4 947.9 377.3 954.6L378.0 956.8Q378.7 959.2 378.9 961.7L380.6 980.2Q380.8 982.7 381.2 985.2L383.7 1002.1Q384.0 1004.8 384.1 1002.1L387.1 972.1Q387.3 969.6 387.8 967.2L390.8 951.2Q391.2 948.7 392.1 946.4L393.7 942.3Q396.0 932.6 396.8 942.5L398.6 951.5Q399.1 954.0 399.2 956.5L402.2 1024.3Q402.2 1027.0 402.3 1024.3L405.5 969.5Q405.6 967.0 406.2 964.6L408.6 955.2Q409.2 948.4 411.3 954.9L412.8 957.8Q413.1 959.7 415.0 959.2L415.6 959.2Q417.8 958.5 418.0 960.8L419.6 964.7Q420.5 967.0 421.2 969.4L422.3 973.6Q422.6 974.9 423.8 975.4L424.0 975.6Q425.2 976.2 425.4 977.5L428.8 1001.1Q429.1 1003.6 429.3 1006.1L432.8 1048.1Q433.0 1050.6 433.2 1053.1L435.6 1085.7Q435.6 1088.4 435.8 1085.7L439.3 1047.9Q439.6 1045.4 440.1 1043.0L441.7 1035.6Q443.1 1025.0 444.0 1035.6L445.7 1045.5Q446.1 1048.0 446.5 1050.5L451.1 1077.9Q451.4 1080.6 451.4 1077.9L453.5 1048.8Q453.9 1038.0 454.4 1048.8L456.4 1074.3Q456.6 1076.7 456.7 1079.2L458.6 1129.6Q458.6 1132.3 458.8 1129.6L461.0 1102.8Q461.3 1100.3 462.3 1098.0L463.3 1096.0Q464.4 1093.7 466.6 1092.6L467.3 1092.3Q470.2 1089.7 470.6 1093.6L471.3 1095.3Q472.2 1097.6 472.5 1100.1L474.2 1119.7Q474.3 1122.4 474.4 1119.7L477.3 1076.6Q477.5 1074.1 477.8 1071.7L478.5 1067.7Q479.5 1058.1 479.7 1067.7L482.0 1100.4Q482.2 1102.9 482.2 1105.4L484.5 1182.4Q484.5 1185.1 484.6 1182.4L486.0 1147.2Q486.1 1144.7 486.3 1142.2L488.6 1105.4Q488.7 1102.9 489.1 1100.4L492.3 1076.6Q492.7 1074.1 493.1 1071.7L496.9 1049.2Q497.1 1044.7 498.4 1049.1L498.7 1049.6Q499.7 1051.9 500.0 1054.4L502.1 1069.6Q502.3 1071.5 503.9 1072.7L504.5 1073.2Q505.6 1074.6 507.2 1073.9L507.9 1073.8Q509.6 1073.6 510.6 1072.1L512.2 1069.7Q513.6 1067.6 514.7 1065.4L515.4 1064.0Q517.2 1058.6 517.8 1064.3L519.0 1069.1Q519.6 1071.5 519.9 1074.0L522.0 1089.6Q522.1 1092.3 522.5 1089.7L524.2 1081.8Q524.8 1079.4 524.9 1076.9L527.2 1040.1Q527.4 1037.6 527.6 1035.1L529.8 1006.1Q530.0 1003.6 530.3 1001.1L532.9 974.7Q533.1 972.2 533.6 969.8L536.1 956.4Q536.5 954.0 537.6 951.7L539.2 948.3Q540.4 943.5 541.9 948.2L542.4 949.2Q543.6 951.3 543.8 953.8L547.9 998.2Q548.0 1000.9 548.2 998.2L551.2 966.9Q551.4 964.4 551.9 962.0L553.3 953.9Q553.1 951.9 554.7 953.2L555.0 953.4Q556.1 954.0 557.1 954.9L557.7 955.5Q558.9 957.5 559.4 955.2L560.8 952.4Q561.1 950.9 562.5 951.3L562.8 951.3Q564.4 950.9 564.2 952.5L565.4 959.3Q565.8 961.8 566.4 964.2L568.6 972.1Q569.0 974.7 569.2 972.1L571.3 961.6Q571.8 959.2 572.9 957.0L573.7 955.4Q574.3 952.9 575.6 955.1L576.0 955.5Q577.3 957.6 577.4 955.1L579.4 947.3Q579.7 946.1 580.7 945.5L580.9 945.4Q582.3 944.1 582.3 946.0L584.3 954.1Q584.9 956.6 585.2 959.1L587.2 975.0Q587.5 977.5 587.7 980.0L589.2 1000.8Q589.2 1003.5 589.7 1000.8L591.5 993.7Q591.9 991.8 593.1 990.3L593.4 990.0Q595.0 987.1 594.6 990.4L596.3 1051.7Q596.2 1054.4 596.8 1051.8L597.5 1049.6Q598.6 1044.3 599.1 1049.7L600.5 1056.0Q601.1 1058.5 601.3 1061.0L604.1 1090.8Q604.2 1092.4 605.7 1093.0L606.2 1093.2Q608.1 1094.5 607.7 1092.2L609.8 1063.1Q610.2 1052.4 610.6 1063.1L611.4 1075.3Q611.5 1077.9 611.7 1075.3L613.0 1063.1Q613.7 1052.4 614.1 1063.1L615.3 1079.2Q615.5 1081.9 615.5 1079.2L616.4 1065.8Q616.8 1055.0 617.0 1065.8L618.0 1085.7Q618.0 1088.4 618.2 1085.7L619.4 1071.0Q620.0 1060.2 620.1 1071.0L622.4 1139.3Q622.5 1142.0 622.6 1139.3L624.3 1095.8Q624.4 1085.0 625.2 1095.8L627.8 1119.7Q627.9 1122.3 628.3 1119.7L630.1 1110.8Q630.3 1109.4 631.5 1108.6L631.8 1108.4Q633.2 1106.7 633.5 1108.9L634.5 1111.0Q635.6 1113.3 636.1 1115.8L638.4 1126.6Q639.0 1129.0 640.1 1131.2L641.8 1134.6Q642.9 1136.8 643.1 1139.3L644.9 1164.6Q644.7 1166.2 645.8 1165.0L646.0 1164.9Q647.1 1163.6 646.9 1165.3L648.4 1178.8Q648.6 1181.2 648.9 1183.7L650.0 1195.4Q650.2 1198.1 650.4 1195.4L651.6 1187.2Q652.6 1176.5 653.3 1187.2L654.3 1194.4Q654.6 1196.9 654.9 1199.4L657.6 1220.3Q657.8 1222.9 657.9 1220.2L660.1 1196.4Q660.5 1185.6 661.6 1196.3L662.8 1203.6Q663.2 1206.1 664.3 1208.3L665.3 1210.3Q666.4 1212.6 666.5 1215.1L668.8 1251.9Q669.0 1254.4 669.6 1256.8L671.5 1265.0Q672.1 1267.5 672.4 1269.9L675.4 1294.7Q675.6 1297.4 675.6 1294.7L678.8 1249.1Q678.9 1246.6 679.2 1244.1L680.9 1229.0Q681.7 1218.3 681.7 1229.0L683.3 1278.9Q683.4 1280.5 684.5 1281.7L684.8 1282.0Q686.0 1283.1 686.1 1284.8L688.4 1317.2Q688.6 1319.7 688.7 1322.2L691.1 1362.6Q690.8 1365.1 692.3 1363.1L692.6 1362.7Q694.0 1360.4 694.5 1363.0L696.3 1366.7Q697.1 1369.2 697.1 1366.5L700.1 1340.5Q700.3 1338.0 700.6 1335.5L704.0 1298.7Q704.3 1296.2 704.6 1293.7L706.6 1280.9Q706.9 1279.2 708.1 1278.0L708.3 1277.8Q709.8 1275.5 709.9 1278.2L711.6 1285.9Q712.1 1288.4 712.2 1290.9L714.7 1353.5Q714.5 1356.1 715.3 1353.6L716.4 1350.8Q717.3 1348.4 717.5 1345.9L719.9 1306.3Q719.6 1304.7 720.8 1305.9L720.9 1306.1Q721.8 1306.6 721.8 1307.7L724.6 1362.6Q724.6 1365.3 724.7 1362.6L726.7 1323.1Q726.9 1312.3 727.5 1323.1L729.4 1346.0Q729.6 1348.4 729.8 1350.9L732.1 1388.7Q732.2 1391.4 732.3 1388.7L735.4 1353.5Q735.6 1351.1 736.1 1348.6L738.4 1337.3Q739.8 1326.7 740.1 1337.4L741.9 1356.4Q742.1 1358.9 742.4 1361.4L745.1 1388.8Q745.3 1391.4 745.3 1388.7L747.2 1333.5Q747.4 1322.7 747.6 1333.5L749.9 1405.7Q750.0 1408.4 750.0 1405.7L752.5 1324.8Q752.6 1322.3 752.9 1319.8L755.0 1304.2Q754.7 1301.9 756.6 1303.3L756.9 1303.4Q758.3 1304.0 758.6 1305.5L762.6 1325.1Q763.0 1327.5 763.3 1330.0L765.9 1351.2Q766.2 1353.7 766.4 1356.2L769.4 1388.8Q769.6 1391.4 769.7 1388.8L772.0 1364.0Q772.2 1361.5 772.4 1359.0L774.6 1337.9Q774.8 1335.4 775.9 1333.1L776.3 1332.4Q777.4 1330.2 777.7 1327.7L779.8 1309.1Q780.0 1306.6 780.8 1304.3L781.8 1301.6Q783.6 1294.1 783.5 1301.8L785.6 1325.1Q785.8 1327.5 785.9 1330.0L789.0 1377.3Q789.2 1379.8 789.6 1382.3L791.4 1393.0Q791.8 1395.5 792.0 1398.0L793.4 1416.4"/>
</g>
<g id="panel-d">
<text class="t" x="1380.7" y="904.4">After de−smearing</text>
<path class="bx" style="stroke-width:2.35" d="M1052.1 936.4H1710.1M1052.1 1507.6H1710.1"/>
<path class="bx" style="stroke-width:2.0" d="M1053.1 936.4V1507.6M1709.1 936.4V1507.6"/>
<path class="tk" d="M1053.1 1079.2h6.5M1709.1 1079.2h-6.5M1053.1 1222.0h6.5M1709.1 1222.0h-6.5M1053.1 1364.8h6.5M1709.1 1364.8h-6.5M1179.3 936.4v6.5M1179.3 1507.6v-6.5M1381.1 936.4v6.5M1381.1 1507.6v-6.5M1581.8 936.4v6.5M1581.8 1507.6v-6.5"/>
<text class="k" text-anchor="end" transform="translate(1042.3 950.6) scale(0.96 1)">0</text>
<text class="k" text-anchor="end" transform="translate(1042.3 1093.4) scale(0.96 1)">−20</text>
<text class="k" text-anchor="end" transform="translate(1042.3 1236.2) scale(0.96 1)">−40</text>
<text class="k" text-anchor="end" transform="translate(1042.3 1379.0) scale(0.96 1)">−60</text>
<text class="k" text-anchor="end" transform="translate(1042.3 1521.8) scale(0.96 1)">−80</text>
<text class="k" text-anchor="middle" transform="translate(1167.3 1554.6) scale(0.96 1)">−<tspan class="one">1</tspan></text>
<text class="k" text-anchor="middle" transform="translate(1381.1 1554.6) scale(0.96 1)">0</text>
<text class="k" text-anchor="middle" transform="translate(1581.8 1554.6) scale(0.96 1)"><tspan class="one">1</tspan></text>
<text class="l" x="1382.6" y="1599.6">Frequency (Hz)</text>
<text class="l" style="font-size:37.6px" transform="translate(961.1 1220.2) rotate(-90)">Power (dB)</text>
<text class="k" style="font-size:36.6px" x="1079.1" y="997.9">(d)</text>
<path class="cv" d="M1054.4 1335.4L1055.8 1336.8Q1057.0 1338.0 1057.3 1339.6L1059.2 1351.2Q1059.6 1353.7 1059.8 1356.2L1061.6 1378.3Q1061.7 1381.0 1061.9 1378.3L1064.5 1356.2Q1064.8 1353.7 1065.3 1351.2L1066.0 1347.9Q1067.0 1339.4 1067.5 1348.0L1068.9 1359.0Q1069.3 1361.5 1069.7 1364.0L1071.6 1373.1Q1071.9 1375.8 1072.0 1373.1L1075.1 1335.3Q1075.3 1332.8 1075.5 1330.3L1077.2 1311.8Q1077.0 1309.8 1078.4 1311.2L1078.7 1311.3Q1079.7 1311.9 1079.9 1313.1L1082.0 1330.3Q1082.3 1332.8 1082.7 1335.2L1084.5 1346.0Q1084.9 1348.4 1085.1 1350.9L1087.7 1380.8Q1087.8 1382.4 1088.9 1383.6L1089.2 1383.9Q1090.5 1386.1 1090.3 1383.5L1092.4 1358.4Q1092.6 1349.9 1093.7 1358.4L1094.6 1362.6Q1094.9 1364.1 1096.3 1364.7L1096.6 1364.8Q1098.0 1365.4 1098.2 1366.9L1102.0 1400.5Q1102.2 1403.2 1102.3 1400.5L1104.5 1365.2Q1104.4 1358.6 1106.0 1365.0L1106.6 1367.0Q1107.4 1369.3 1107.6 1371.8L1110.3 1408.7Q1110.5 1411.1 1110.9 1413.6L1112.7 1424.4Q1113.1 1426.8 1113.2 1429.3L1115.2 1497.2Q1115.2 1499.9 1115.3 1497.2L1117.5 1392.7Q1117.6 1390.2 1117.9 1387.8L1120.2 1366.8Q1120.0 1362.1 1121.9 1366.5L1122.3 1367.2Q1123.6 1369.3 1124.7 1371.6L1126.4 1374.9Q1127.5 1377.2 1127.8 1379.7L1129.8 1394.3Q1130.1 1396.8 1130.2 1399.3L1130.6 1454.1Q1130.6 1456.8 1130.7 1454.1L1132.7 1392.7Q1132.7 1390.2 1133.1 1387.8L1134.6 1376.6Q1135.5 1365.9 1135.9 1376.6L1138.4 1403.1Q1138.5 1405.8 1138.6 1403.1L1140.3 1373.4Q1140.2 1363.8 1141.8 1373.3L1142.7 1377.4Q1143.2 1379.8 1143.5 1382.3L1145.6 1400.5Q1145.3 1402.6 1147.3 1402.0L1147.7 1402.0Q1149.8 1402.6 1149.3 1400.5L1152.2 1340.5Q1152.3 1338.0 1152.5 1335.5L1154.3 1313.3Q1154.4 1311.9 1155.2 1310.7L1155.4 1310.4Q1156.5 1308.2 1156.5 1310.7L1158.5 1325.1Q1158.9 1327.5 1159.4 1330.0L1161.2 1338.0Q1161.5 1339.3 1162.7 1339.9L1162.9 1340.0Q1164.4 1341.3 1164.6 1339.4L1165.5 1337.0Q1167.0 1331.6 1167.2 1337.2L1168.9 1348.6Q1169.3 1351.1 1169.4 1353.6L1171.3 1397.9Q1171.3 1400.6 1171.6 1397.9L1174.1 1382.3Q1174.5 1379.8 1175.1 1377.4L1176.5 1371.1Q1177.0 1365.6 1178.3 1371.0L1178.8 1372.2Q1179.8 1374.6 1179.9 1377.1L1181.5 1401.8Q1181.6 1404.5 1181.6 1401.8L1183.6 1330.0Q1183.7 1327.5 1184.0 1325.1L1186.1 1308.1Q1186.6 1298.5 1188.0 1308.0L1188.9 1312.0Q1189.4 1314.5 1189.6 1317.0L1192.6 1356.4Q1192.8 1358.9 1193.0 1361.4L1194.6 1392.7Q1194.7 1395.4 1194.7 1392.7L1197.9 1330.0Q1198.1 1327.5 1198.4 1325.1L1201.1 1303.9Q1201.5 1301.4 1202.0 1299.0L1204.3 1289.6Q1204.2 1287.6 1205.8 1288.9L1206.0 1289.1Q1207.2 1289.7 1207.4 1291.0L1210.8 1314.6Q1211.1 1317.1 1212.2 1319.3L1213.6 1322.3Q1214.5 1324.8 1214.4 1322.1L1216.9 1288.2Q1217.1 1285.7 1217.9 1283.4L1218.6 1281.4Q1220.0 1275.0 1220.4 1281.6L1222.5 1293.7Q1222.9 1296.2 1223.3 1298.7L1226.4 1317.2Q1226.8 1319.7 1227.1 1322.2L1229.7 1341.7Q1229.9 1344.4 1230.1 1341.7L1232.0 1321.8Q1232.5 1311.0 1233.1 1321.8L1234.9 1340.7Q1235.2 1343.2 1235.4 1345.7L1237.6 1366.5Q1237.8 1369.2 1237.9 1366.5L1241.0 1330.0Q1241.2 1327.5 1241.4 1325.1L1244.8 1296.1Q1245.1 1293.6 1245.7 1291.2L1247.7 1283.9Q1247.9 1280.3 1249.5 1283.6L1249.8 1284.0Q1251.1 1285.7 1251.2 1287.9L1254.1 1330.3Q1254.2 1332.8 1254.3 1335.3L1255.5 1369.2Q1255.3 1371.8 1256.1 1369.3L1257.2 1366.4Q1258.1 1364.1 1258.3 1361.6L1260.6 1309.1Q1260.8 1306.6 1260.9 1304.2L1262.7 1277.6Q1262.8 1275.3 1264.8 1274.1L1265.7 1273.6Q1267.4 1271.8 1268.7 1273.9L1269.0 1274.1Q1270.4 1275.3 1270.6 1277.1L1273.1 1304.2Q1273.3 1306.6 1273.4 1309.1L1275.6 1362.6Q1275.7 1365.3 1275.7 1362.6L1277.7 1288.2Q1277.7 1285.7 1278.0 1283.3L1281.4 1249.0Q1281.7 1246.6 1282.0 1244.1L1285.3 1216.3Q1284.7 1212.7 1287.9 1214.5L1289.3 1214.8Q1291.3 1215.9 1291.1 1213.7L1294.3 1196.8Q1294.7 1194.3 1295.6 1192.0L1296.9 1188.4Q1298.8 1180.2 1299.8 1188.6L1300.6 1191.9Q1301.2 1194.3 1301.4 1196.8L1304.2 1231.0Q1304.4 1233.5 1304.5 1236.0L1306.9 1299.9Q1307.0 1302.6 1307.0 1299.9L1309.0 1196.8Q1309.1 1194.3 1309.5 1191.8L1310.7 1184.6Q1312.0 1173.9 1312.0 1184.6L1314.2 1232.0Q1314.3 1234.7 1314.3 1232.0L1316.3 1157.6Q1316.4 1155.1 1316.5 1152.6L1318.2 1092.3Q1318.2 1089.8 1318.3 1087.3L1320.8 1013.9Q1320.8 1011.4 1321.0 1008.9L1323.8 956.5Q1324.0 954.0 1324.3 951.5L1325.2 945.5Q1325.5 943.0 1326.4 940.6L1326.5 940.1Q1327.4 935.9 1328.2 940.1L1328.4 940.6Q1329.2 943.0 1329.5 945.5L1330.2 951.5Q1330.5 954.0 1330.7 956.5L1335.0 1022.0Q1335.2 1024.5 1335.4 1027.0L1339.5 1081.8Q1339.7 1084.5 1339.7 1081.8L1342.9 1000.9Q1343.0 998.4 1343.2 995.9L1345.0 956.5Q1345.1 954.0 1345.5 951.5L1346.4 945.4Q1346.7 943.0 1347.4 940.6L1347.6 940.1Q1348.2 935.9 1349.1 940.1L1349.3 940.6Q1350.1 943.0 1350.4 945.5L1351.1 951.5Q1351.4 954.0 1351.5 956.5L1354.7 1022.0Q1354.8 1024.5 1354.9 1027.0L1357.9 1080.5Q1357.9 1083.2 1358.0 1080.5L1361.2 1008.7Q1361.3 1006.2 1361.5 1003.7L1365.1 956.5Q1365.3 954.0 1365.6 951.5L1366.5 945.4Q1366.8 943.0 1367.5 940.6L1367.7 940.1Q1368.4 935.9 1369.1 940.1L1369.2 940.6Q1370.0 943.0 1370.2 945.4L1371.0 951.5Q1371.3 954.0 1371.4 956.5L1374.2 995.9Q1374.4 998.4 1374.5 1000.9L1378.2 1087.3Q1378.3 1089.8 1378.4 1092.3L1380.8 1152.6Q1380.9 1155.1 1381.1 1157.6L1383.5 1193.0L1383.8 1193.0L1386.3 1149.8Q1386.4 1147.3 1386.7 1144.8L1388.9 1123.1Q1389.1 1121.2 1390.0 1119.4L1390.2 1119.0Q1391.4 1115.7 1391.4 1119.2L1393.6 1137.6Q1393.8 1139.4 1395.2 1140.6L1395.7 1141.1Q1397.3 1143.0 1397.0 1140.6L1398.9 1100.1Q1399.0 1097.6 1399.6 1095.2L1400.4 1091.9Q1401.9 1083.4 1402.0 1092.0L1404.0 1118.7Q1404.2 1121.2 1404.3 1123.7L1406.7 1178.7Q1406.8 1181.2 1406.9 1183.7L1407.8 1223.7Q1407.9 1225.7 1408.8 1227.4L1409.3 1228.3Q1410.2 1230.7 1410.0 1228.1L1412.5 1157.6Q1412.6 1155.1 1412.8 1152.6L1416.3 1110.6Q1416.5 1108.1 1416.9 1105.6L1419.2 1092.7Q1419.7 1085.2 1421.1 1092.6L1421.8 1095.2Q1422.5 1097.6 1422.8 1100.1L1425.0 1121.2Q1424.7 1123.2 1426.3 1121.9L1426.6 1121.7Q1427.7 1121.2 1427.9 1119.9L1429.9 1105.7Q1429.8 1103.1 1431.0 1105.4L1431.2 1105.6Q1432.2 1106.8 1432.4 1108.3L1434.5 1119.7Q1434.8 1122.3 1435.0 1119.7L1436.9 1109.3Q1437.4 1106.8 1438.0 1104.4L1438.8 1101.0Q1440.4 1092.5 1440.3 1101.2L1442.5 1142.1Q1442.6 1143.4 1443.8 1144.0L1444.1 1144.1Q1445.7 1145.4 1445.3 1143.4L1447.7 1105.4Q1447.8 1102.9 1448.6 1100.5L1450.8 1094.1Q1451.7 1088.7 1452.9 1094.1L1453.4 1095.3Q1454.4 1097.6 1454.8 1100.1L1458.1 1121.0Q1458.3 1123.6 1458.6 1121.0L1461.7 1105.3Q1462.2 1102.9 1462.6 1100.4L1465.8 1081.5Q1466.1 1079.4 1467.9 1078.2L1468.3 1077.9Q1470.0 1076.7 1470.5 1074.7L1472.4 1066.4Q1472.2 1064.4 1474.1 1065.0L1474.4 1065.0Q1476.3 1064.4 1476.0 1066.4L1478.9 1089.9Q1479.2 1092.4 1479.6 1094.9L1481.6 1106.6Q1481.7 1109.2 1482.4 1106.7L1483.9 1102.8Q1484.1 1100.8 1485.6 1102.2L1485.9 1102.3Q1487.0 1102.9 1487.2 1104.2L1488.9 1114.5Q1489.1 1117.1 1489.3 1114.4L1491.4 1097.5Q1491.7 1095.0 1492.3 1092.6L1494.3 1084.4Q1494.9 1082.0 1495.0 1079.5L1497.4 1013.9Q1497.5 1011.4 1497.6 1008.9L1499.2 961.7Q1499.3 959.2 1499.6 956.7L1500.4 950.8Q1500.6 948.7 1501.3 946.7L1501.5 946.1Q1502.1 942.9 1503.0 946.1L1503.2 946.5Q1504.0 948.2 1504.4 950.1L1505.1 954.1Q1505.6 956.6 1505.8 959.1L1509.0 995.9Q1509.2 998.4 1509.4 1000.9L1512.2 1056.0Q1512.4 1058.5 1512.5 1061.0L1514.4 1097.5Q1514.5 1100.2 1514.5 1097.5L1517.0 1013.9Q1517.1 1011.4 1517.2 1008.9L1519.6 961.7Q1519.7 959.2 1520.0 956.7L1520.9 949.9Q1521.3 947.4 1522.0 945.1L1522.2 944.3Q1522.8 940.5 1523.5 944.3L1523.7 944.8Q1524.4 946.9 1524.7 949.1L1525.6 954.1Q1526.0 956.6 1526.1 959.1L1529.4 1008.9Q1529.6 1011.4 1529.8 1013.9L1532.7 1064.6Q1532.7 1066.3 1533.9 1067.5L1534.3 1067.8Q1535.8 1069.9 1535.4 1067.4L1537.9 1000.9Q1538.0 998.4 1538.1 995.9L1539.9 961.7Q1540.1 959.2 1540.4 956.7L1541.3 948.6Q1541.6 946.1 1542.3 943.7L1542.5 942.8Q1543.1 938.5 1544.0 942.7L1544.2 943.3Q1545.0 945.6 1545.4 948.1L1546.2 954.1Q1546.6 956.6 1546.8 959.1L1549.5 995.9Q1549.7 998.4 1549.9 1000.9L1553.5 1074.3Q1553.6 1076.7 1553.8 1079.2L1557.4 1139.6Q1557.6 1142.1 1557.8 1144.5L1561.4 1183.9Q1561.5 1185.2 1562.7 1185.8L1562.9 1185.9Q1564.1 1186.5 1564.2 1187.8L1566.6 1211.1Q1566.7 1213.8 1566.8 1211.1L1569.2 1165.5Q1569.3 1163.0 1569.7 1160.5L1570.5 1155.8Q1571.7 1145.2 1571.7 1155.8L1573.7 1199.6Q1573.8 1202.1 1574.0 1204.6L1576.5 1226.8Q1576.6 1229.5 1576.8 1226.8L1578.5 1214.6Q1579.4 1203.9 1579.7 1214.7L1582.3 1245.1Q1582.3 1247.7 1582.7 1245.1L1584.4 1238.5Q1585.0 1236.1 1585.3 1233.6L1588.6 1207.2Q1588.9 1204.8 1590.0 1202.5L1590.4 1201.9Q1591.9 1197.6 1591.9 1202.1L1593.8 1218.0Q1594.1 1220.4 1594.3 1222.9L1597.4 1262.0Q1597.5 1264.7 1597.7 1262.0L1600.4 1236.0Q1600.7 1233.5 1601.6 1231.2L1602.4 1229.1Q1603.9 1222.9 1605.0 1229.2L1605.6 1231.1Q1606.4 1233.5 1606.6 1236.0L1610.2 1296.0Q1610.3 1298.7 1610.4 1296.0L1612.8 1262.1Q1613.0 1259.6 1614.1 1257.4L1614.4 1256.7Q1615.8 1252.4 1616.0 1257.0L1618.5 1270.2Q1619.0 1272.7 1619.2 1275.2L1621.3 1296.3Q1621.6 1298.8 1621.6 1301.3L1624.1 1395.3Q1624.2 1398.0 1624.2 1395.3L1626.2 1309.1Q1626.3 1306.6 1626.7 1304.2L1627.3 1300.9Q1628.1 1292.4 1628.8 1300.9L1631.0 1315.6Q1631.2 1318.3 1631.6 1315.6L1633.5 1308.1Q1633.9 1306.6 1634.8 1305.5L1635.0 1305.2Q1636.2 1303.0 1636.3 1305.5L1638.2 1313.0Q1638.6 1315.7 1638.7 1313.0L1641.0 1292.6Q1641.2 1291.0 1642.3 1289.8L1642.6 1289.5Q1644.2 1287.2 1644.0 1290.0L1646.1 1306.8Q1646.4 1309.3 1646.6 1311.8L1648.8 1340.7Q1649.0 1343.2 1649.2 1345.7L1651.5 1374.4Q1651.6 1377.1 1651.7 1374.4L1654.1 1324.8Q1654.2 1322.3 1654.5 1319.8L1656.2 1304.8Q1656.9 1294.0 1657.4 1304.8L1660.1 1333.9Q1660.2 1336.6 1660.5 1333.9L1663.8 1312.6Q1664.6 1301.9 1665.7 1312.6L1666.9 1319.9Q1667.3 1322.3 1667.6 1324.8L1670.2 1344.3Q1670.5 1347.0 1670.5 1344.3L1672.2 1311.3Q1672.3 1300.6 1673.4 1311.3L1674.7 1319.8Q1675.1 1322.3 1675.3 1324.8L1677.7 1369.2Q1677.7 1371.8 1677.8 1369.2L1679.5 1344.4Q1679.1 1342.8 1680.7 1343.2L1681.0 1343.2Q1682.6 1342.8 1682.2 1344.4L1685.5 1401.8Q1685.5 1404.5 1685.8 1401.8L1687.8 1387.5Q1688.2 1385.0 1688.4 1382.5L1690.3 1357.0Q1690.8 1346.3 1691.2 1357.0L1693.2 1387.7Q1693.4 1390.2 1693.5 1392.7L1696.0 1441.0Q1696.0 1443.7 1696.1 1441.0L1698.6 1366.6Q1698.6 1364.1 1699.8 1361.9L1700.1 1361.2Q1701.7 1356.9 1701.4 1361.5L1703.8 1417.5Q1703.9 1420.2 1703.9 1417.5L1705.6 1366.6Q1705.7 1364.1 1705.9 1361.6L1707.8 1338.0"/>
</g>
<g id="panel-e">
<text class="t" x="469.5" y="1761">Using optimal filter</text>
<path class="bx" style="stroke-width:2.35" d="M139.7 1792.6H794.3M139.7 2359.8H794.3"/>
<path class="bx" style="stroke-width:2.0" d="M140.7 1792.6V2359.8M793.3 1792.6V2359.8"/>
<path class="tk" d="M140.7 1934.3h6.5M793.3 1934.3h-6.5M140.7 2074.6h6.5M793.3 2074.6h-6.5M140.7 2218.2h6.5M793.3 2218.2h-6.5M266.8 1792.6v6.5M266.8 2359.8v-6.5M468.0 1792.6v6.5M468.0 2359.8v-6.5M667.8 1792.6v6.5M667.8 2359.8v-6.5"/>
<text class="k" text-anchor="end" transform="translate(129.9 1806.8) scale(0.96 1)">0</text>
<text class="k" text-anchor="end" transform="translate(129.9 1948.6) scale(0.96 1)">−20</text>
<text class="k" text-anchor="end" transform="translate(129.9 2090.4) scale(0.96 1)">−40</text>
<text class="k" text-anchor="end" transform="translate(129.9 2232.2) scale(0.96 1)">−60</text>
<text class="k" text-anchor="end" transform="translate(129.9 2374.0) scale(0.96 1)">−80</text>
<text class="k" text-anchor="middle" transform="translate(254.8 2406.2) scale(0.96 1)">−<tspan class="one">1</tspan></text>
<text class="k" text-anchor="middle" transform="translate(468.0 2406.2) scale(0.96 1)">0</text>
<text class="k" text-anchor="middle" transform="translate(667.8 2406.2) scale(0.96 1)"><tspan class="one">1</tspan></text>
<text class="l" x="469.0" y="2451.2">Frequency (Hz)</text>
<text class="l" style="font-size:37.6px" transform="translate(46.7 2074.4) rotate(-90)">Power (dB)</text>
<text class="k" style="font-size:36.6px" x="166.7" y="1854.1">(e)</text>
<path class="cv" d="M140.7 2160.0L142.1 2142.5Q142.6 2131.7 143.0 2142.5L144.2 2160.2Q144.4 2162.6 144.5 2165.1L146.1 2191.5Q146.2 2194.0 146.5 2196.5L148.1 2210.8Q148.3 2213.5 148.5 2210.8L150.5 2196.5Q150.9 2194.0 151.1 2191.5L153.1 2160.8Q153.6 2150.0 153.7 2160.8L155.6 2225.2Q155.6 2227.8 155.7 2225.2L158.0 2180.5Q157.8 2171.9 159.4 2180.4L160.5 2184.7Q160.9 2187.3 160.9 2184.7L163.1 2138.6Q163.3 2127.8 164.0 2138.6L166.4 2165.4Q166.6 2167.9 166.7 2170.4L168.6 2200.3Q168.6 2203.0 169.0 2200.4L170.1 2194.6Q171.4 2184.1 172.3 2194.7L173.5 2202.0Q173.9 2204.4 174.1 2206.9L176.9 2233.0Q177.0 2235.7 177.1 2233.0L179.5 2196.5Q179.6 2194.0 179.8 2191.5L182.1 2144.2Q182.2 2141.7 182.7 2139.3L183.3 2136.7Q184.3 2129.3 184.3 2136.8L186.0 2165.4Q186.2 2167.9 186.3 2170.4L188.7 2234.3Q188.8 2237.0 188.9 2234.3L191.5 2192.1Q191.9 2181.4 192.3 2192.1L193.9 2217.6Q194.0 2220.1 194.1 2222.6L196.6 2283.9Q196.6 2286.6 196.7 2283.9L199.0 2226.1Q199.3 2215.3 199.4 2226.1L201.8 2314.0Q201.8 2316.7 201.9 2314.0L204.4 2209.6Q204.5 2207.1 204.7 2204.6L206.5 2186.9Q207.2 2176.1 207.3 2186.9L209.1 2244.7Q209.1 2247.4 209.3 2244.7L211.9 2205.2Q212.4 2194.4 212.5 2205.2L214.8 2261.7Q214.6 2264.3 215.7 2262.0L216.3 2261.1Q217.5 2259.3 217.7 2257.2L220.0 2222.6Q220.1 2220.1 220.2 2217.6L222.5 2169.9Q222.7 2159.2 223.2 2169.9L225.2 2196.7Q225.4 2199.2 225.8 2201.7L227.6 2212.4Q228.0 2214.9 228.0 2217.4L229.3 2358.7Q229.0 2359.7 230.0 2359.4L230.1 2359.4Q231.1 2359.7 230.8 2358.7L231.9 2274.9Q231.9 2272.4 232.1 2269.9L234.3 2235.7Q234.5 2233.2 234.7 2230.7L237.5 2186.0Q237.6 2183.5 237.8 2181.0L240.1 2143.0Q240.5 2132.3 241.0 2143.0L242.9 2165.4Q243.1 2167.9 243.2 2170.4L245.7 2217.3Q245.7 2220.0 245.8 2217.3L248.2 2161.2Q247.8 2154.5 249.8 2160.9L250.6 2162.9Q251.5 2165.3 251.8 2167.7L253.7 2181.1Q254.1 2183.5 254.2 2186.0L256.6 2231.7Q256.4 2234.2 257.6 2232.0L257.9 2231.7Q258.8 2230.6 258.9 2229.1L261.1 2185.6Q261.5 2174.8 261.5 2185.6L263.5 2269.6Q263.5 2272.3 263.5 2269.6L265.3 2196.5Q265.3 2194.0 265.5 2191.5L266.8 2166.0Q267.1 2155.2 267.7 2166.0L269.1 2182.1Q269.3 2184.7 269.4 2182.0L271.9 2149.0Q272.2 2138.3 273.3 2149.0L274.6 2157.6Q275.0 2160.0 275.2 2162.5L277.5 2184.7Q277.6 2187.4 277.8 2184.7L278.7 2176.4Q279.5 2165.7 280.0 2176.5L281.3 2191.5Q281.5 2194.0 281.8 2196.5L284.5 2222.5Q284.7 2225.2 284.7 2222.5L286.6 2137.3Q286.7 2126.5 287.0 2137.3L289.3 2192.5Q289.3 2195.2 289.5 2192.5L291.8 2154.7Q292.0 2152.2 293.1 2150.0L293.4 2149.3Q295.0 2145.0 294.7 2149.6L297.1 2210.8Q297.2 2213.5 297.3 2210.8L299.6 2153.0Q299.8 2142.2 300.2 2153.0L301.8 2182.0Q301.9 2184.7 302.0 2182.0L304.8 2144.2Q305.0 2141.7 305.4 2139.3L306.9 2128.1Q307.7 2117.4 308.2 2128.1L310.0 2147.1Q310.3 2149.6 310.5 2152.1L312.8 2182.0Q312.9 2184.7 313.0 2182.0L315.0 2155.6Q315.6 2144.8 315.7 2155.6L317.5 2204.3Q317.6 2206.9 317.6 2204.3L320.5 2128.1Q320.6 2117.4 321.1 2128.1L323.2 2160.2Q323.3 2162.6 323.6 2165.1L325.3 2180.7Q325.4 2183.4 325.6 2180.8L327.2 2168.6Q328.0 2157.9 328.8 2168.6L331.0 2186.2Q330.8 2188.2 332.3 2186.9L332.6 2186.7Q333.8 2186.2 333.8 2184.8L336.3 2135.6Q335.9 2132.8 337.6 2135.1L337.8 2135.3Q339.0 2136.5 339.0 2138.2L341.0 2202.9Q341.0 2205.6 341.2 2203.0L343.1 2184.3Q343.8 2173.5 343.9 2184.3L345.7 2233.0Q345.8 2235.7 345.8 2233.0L348.1 2170.4Q348.1 2167.9 348.2 2165.4L349.3 2129.8Q349.0 2123.2 350.6 2129.6L351.3 2131.5Q352.1 2133.9 352.1 2136.4L353.8 2195.1Q353.9 2197.8 353.9 2195.1L355.9 2144.2Q356.0 2141.7 356.1 2139.2L357.2 2112.1Q356.8 2109.3 358.5 2111.6L358.7 2111.8Q359.9 2113.0 360.3 2114.6L361.7 2120.9Q362.0 2122.2 363.2 2122.7L363.4 2122.9Q365.0 2124.2 364.7 2122.1L366.8 2087.6Q367.3 2076.9 367.4 2087.7L369.8 2167.7Q369.8 2170.4 369.9 2167.7L371.6 2112.9Q371.7 2110.4 371.8 2107.9L374.0 2064.1Q374.1 2053.4 374.9 2064.1L376.7 2082.8Q376.9 2085.5 376.9 2082.8L379.2 2026.3Q379.5 2015.5 379.8 2026.3L382.0 2074.9Q382.1 2077.6 382.2 2074.9L384.6 2041.5Q384.7 2039.9 385.9 2038.7L386.2 2038.4Q387.8 2036.1 387.4 2038.9L389.8 2077.5Q389.9 2080.2 390.0 2077.5L393.0 2028.9Q393.2 2018.1 394.0 2028.8L395.8 2046.2Q395.9 2048.9 396.1 2046.2L398.8 2026.7Q399.1 2024.2 399.3 2021.7L402.6 1975.3Q403.0 1964.5 403.4 1975.3L405.5 2012.2Q405.6 2014.9 405.7 2012.2L408.1 1961.4Q408.2 1958.9 408.3 1956.4L410.8 1883.0Q410.8 1880.5 410.9 1878.0L413.3 1822.9Q413.5 1820.4 414.1 1818.0L415.2 1813.9Q417.0 1804.4 417.1 1814.1L419.2 1838.8Q419.5 1841.3 419.6 1843.8L423.7 1898.9Q423.9 1901.4 424.0 1903.9L425.9 1966.5Q425.9 1969.2 426.3 1966.6L428.5 1957.4Q429.1 1955.0 429.2 1952.5L431.7 1883.0Q431.7 1880.5 431.9 1878.0L434.2 1830.7Q434.4 1828.2 434.7 1825.8L436.2 1812.8Q437.1 1802.0 437.3 1812.8L438.9 1846.7Q439.1 1849.1 439.5 1851.6L441.8 1865.0Q442.2 1867.4 442.3 1869.9L444.7 1930.2Q444.8 1932.7 444.9 1935.2L448.6 2013.5Q448.7 2016.2 448.8 2013.5L451.3 1922.2Q451.3 1919.7 451.4 1917.2L453.9 1838.6Q453.9 1836.1 454.4 1833.6L455.9 1825.8Q457.2 1815.2 457.8 1825.8L459.4 1838.8Q459.7 1841.3 459.9 1843.8L461.6 1864.9Q461.8 1867.4 461.8 1869.9L463.8 2000.5Q463.8 2003.2 464.1 2000.5L466.6 1987.5Q467.0 1985.0 467.2 1982.5L469.1 1962.2Q469.7 1951.5 469.9 1962.3L472.2 2010.9Q472.2 2013.6 472.3 2010.9L474.8 1960.5Q474.8 1958.9 476.0 1957.7L476.3 1957.4Q477.9 1955.1 477.5 1957.9L479.5 2007.0Q479.5 2009.7 479.6 2007.0L481.8 1964.9Q482.1 1954.1 482.6 1964.9L484.7 1995.3Q484.8 1998.0 484.8 1995.3L487.3 1940.6Q486.9 1938.5 488.6 1939.9L488.8 1940.0Q490.0 1940.6 490.3 1941.9L492.2 1951.2Q492.7 1953.6 493.4 1956.0L494.5 1959.1Q495.3 1961.5 495.5 1964.0L497.6 1985.1Q497.9 1987.6 498.2 1990.1L500.3 2004.4Q500.5 2007.1 500.6 2004.4L503.0 1973.6Q503.1 1971.9 504.3 1970.8L504.5 1970.5Q505.7 1969.3 506.0 1967.7L507.3 1960.9Q508.4 1950.2 509.2 1960.9L510.7 1970.5Q511.0 1973.1 511.2 1970.4L513.9 1950.7Q513.8 1949.4 515.0 1949.7L515.2 1949.7Q516.5 1949.4 516.2 1950.7L518.0 2008.3Q518.0 2011.0 518.1 2008.3L520.4 1977.0Q520.6 1974.5 521.0 1972.1L523.6 1956.1Q524.0 1953.6 525.1 1951.4L526.4 1948.6Q529.2 1941.0 528.5 1949.1L530.5 2046.2Q530.5 2048.9 530.6 2046.2L532.5 1955.7Q532.6 1944.9 532.8 1955.7L533.9 2008.6Q533.9 2011.1 534.0 2013.6L536.0 2059.3Q536.0 2062.0 536.0 2059.3L537.8 1948.6Q537.9 1947.1 539.3 1946.5L539.6 1946.4Q541.5 1945.0 541.2 1947.3L543.3 1966.8Q543.6 1969.3 543.8 1971.8L545.5 1990.0Q545.7 1992.7 545.8 1990.0L547.4 1961.4Q547.5 1958.9 547.6 1956.4L549.0 1928.3Q549.4 1917.5 549.5 1928.3L551.4 1990.0Q551.4 1992.7 551.5 1990.0L553.3 1951.8Q553.4 1941.0 554.0 1951.8L555.2 1967.8Q555.3 1970.5 555.5 1967.8L556.8 1953.2Q557.0 1944.6 558.1 1953.1L559.0 1957.4Q559.4 1960.1 559.3 1957.4L561.6 1904.3Q561.9 1893.5 562.0 1904.3L564.5 2001.8Q564.2 2004.4 565.2 2002.0L565.6 2001.1Q566.6 1999.4 566.7 1997.4L569.6 1950.9Q569.7 1948.4 570.4 1946.0L571.2 1943.4Q572.7 1935.9 572.5 1943.6L574.9 1990.0Q574.9 1992.7 575.0 1990.0L577.4 1945.7Q577.6 1943.2 577.7 1940.7L580.0 1909.1Q580.2 1906.6 580.4 1904.1L582.6 1877.8Q582.8 1875.3 583.0 1872.8L585.2 1843.8Q585.4 1841.3 585.5 1838.8L587.7 1800.3Q588.1 1789.5 588.2 1800.3L589.8 1847.6Q589.8 1850.3 590.0 1847.7L592.1 1826.4Q592.8 1815.6 593.2 1826.4L594.3 1841.4Q594.5 1843.9 594.7 1846.4L597.8 1898.9Q597.9 1901.4 598.1 1903.9L600.4 1936.5Q600.6 1939.2 600.6 1936.5L603.0 1883.0Q603.2 1880.5 603.3 1878.0L605.7 1830.7Q605.8 1828.2 606.0 1825.8L607.9 1804.2Q608.5 1793.4 608.8 1804.2L610.1 1825.8Q610.2 1828.2 611.1 1830.6L611.9 1832.5Q612.8 1834.8 613.0 1837.3L615.3 1878.0Q615.4 1880.5 615.8 1883.0L618.5 1904.1Q618.8 1906.6 619.1 1909.1L620.5 1922.1Q620.7 1924.8 620.8 1922.1L623.1 1883.0Q623.3 1880.5 623.3 1878.0L625.0 1817.7Q625.1 1815.2 626.0 1812.9L627.0 1810.5Q628.6 1803.9 629.7 1810.6L630.4 1812.8Q631.1 1815.2 631.4 1817.7L634.0 1838.8Q634.3 1841.3 634.3 1843.8L636.3 1910.3Q636.2 1913.0 636.6 1910.4L637.5 1906.1Q638.7 1897.6 638.8 1906.2L640.1 1922.4Q640.3 1924.9 640.7 1927.4L642.6 1939.1Q642.5 1941.6 643.9 1939.5L644.3 1939.1Q645.8 1936.8 645.8 1939.6L648.4 1955.0Q648.2 1957.0 649.8 1955.7L650.1 1955.5Q651.6 1954.2 651.5 1956.2L653.3 1964.3Q653.8 1966.7 654.0 1969.2L656.3 2009.0Q656.5 2011.1 657.6 2012.9L658.2 2013.8Q659.1 2016.1 659.8 2013.7L660.2 2012.9Q661.5 2009.6 661.3 2013.1L663.7 2067.1Q663.8 2069.8 663.9 2067.1L666.7 2029.1Q666.9 2026.8 668.4 2025.0L669.2 2024.1Q670.3 2022.9 671.8 2022.3L672.2 2022.2Q674.3 2020.7 673.8 2023.2L676.2 2074.9Q676.0 2077.5 677.1 2075.2L677.7 2074.3Q678.9 2071.1 680.1 2074.3L680.4 2074.7Q681.5 2076.4 681.6 2078.6L683.8 2122.0Q683.9 2124.7 683.9 2122.0L686.5 2048.5Q686.8 2037.7 687.0 2048.5L689.3 2119.3Q689.4 2122.0 689.4 2119.3L691.8 2048.5Q692.0 2037.7 692.2 2048.5L693.7 2081.8Q693.8 2084.3 694.4 2086.7L695.8 2092.3Q696.4 2094.7 697.2 2097.1L698.3 2100.2Q699.0 2102.6 699.1 2105.1L701.6 2201.6Q701.7 2204.3 701.7 2201.6L704.6 2099.4Q704.6 2088.6 705.4 2099.4L706.6 2113.1Q706.9 2115.6 707.3 2118.1L709.3 2131.1Q709.5 2133.8 709.6 2131.1L711.7 2099.4Q712.1 2088.6 712.6 2099.4L713.7 2113.1Q713.9 2115.6 714.6 2118.0L716.6 2125.0Q717.3 2127.4 717.4 2129.9L719.4 2230.4Q719.4 2233.1 719.5 2230.4L722.0 2118.1Q722.0 2115.6 723.0 2113.3L723.8 2111.3Q725.7 2104.9 725.2 2111.6L727.0 2192.5Q727.0 2195.2 727.1 2192.5L729.5 2149.5Q729.6 2147.0 729.9 2144.5L732.5 2120.4Q732.7 2111.8 734.2 2120.3L735.0 2123.6Q735.6 2126.1 736.0 2128.5L738.0 2140.3Q737.9 2142.8 739.3 2140.7L739.7 2140.3Q741.2 2138.0 741.1 2140.8L742.7 2150.7Q743.0 2153.4 743.1 2150.7L744.9 2134.6Q745.7 2123.9 745.8 2134.7L748.1 2183.7Q747.7 2185.3 749.3 2184.9L749.6 2184.9Q751.2 2185.3 750.9 2183.7L753.1 2165.1Q753.4 2162.6 753.5 2160.1L755.5 2107.2Q755.6 2096.5 756.4 2107.2L758.9 2131.4Q759.1 2133.9 759.5 2136.4L761.1 2148.4Q761.2 2149.6 762.3 2150.2L762.5 2150.3Q763.6 2150.9 763.6 2152.1L766.0 2191.5Q766.2 2194.0 766.4 2196.5L768.2 2218.6Q768.3 2221.3 768.4 2218.6L769.8 2202.6Q770.5 2191.8 770.5 2202.6L772.9 2282.6Q773.0 2285.3 773.0 2282.6L775.6 2146.0Q775.6 2144.4 776.8 2143.2L777.0 2142.9Q778.5 2140.6 778.6 2143.4L780.7 2152.4Q781.3 2154.8 781.9 2157.2L783.3 2162.8Q783.9 2165.3 784.4 2167.7L786.1 2178.5Q786.6 2180.9 787.3 2183.3L788.7 2187.3Q788.9 2189.8 790.2 2187.7L790.6 2187.3Q791.8 2186.2 792.0 2184.5L793.3 2175.7"/>
</g>
<g id="panel-f">
<text class="t" x="1383" y="1760.8">After removing multi−mode</text>
<path class="bx" style="stroke-width:2.35" d="M1053.5 1792.1H1709.8M1053.5 2359.7H1709.8"/>
<path class="bx" style="stroke-width:2.0" d="M1054.5 1792.1V2359.7M1708.8 1792.1V2359.7"/>
<path class="tk" d="M1054.5 1933.0h6.5M1708.8 1933.0h-6.5M1054.5 2074.2h6.5M1708.8 2074.2h-6.5M1054.5 2216.6h6.5M1708.8 2216.6h-6.5M1178.6 1792.1v6.5M1178.6 2359.7v-6.5M1381.1 1792.1v6.5M1381.1 2359.7v-6.5M1581.9 1792.1v6.5M1581.9 2359.7v-6.5"/>
<text class="k" text-anchor="end" transform="translate(1043.7 1806.3) scale(0.96 1)">0</text>
<text class="k" text-anchor="end" transform="translate(1043.7 1948.2) scale(0.96 1)">−20</text>
<text class="k" text-anchor="end" transform="translate(1043.7 2090.1) scale(0.96 1)">−40</text>
<text class="k" text-anchor="end" transform="translate(1043.7 2232.0) scale(0.96 1)">−60</text>
<text class="k" text-anchor="end" transform="translate(1043.7 2373.9) scale(0.96 1)">−80</text>
<text class="k" text-anchor="middle" transform="translate(1166.6 2406.2) scale(0.96 1)">−<tspan class="one">1</tspan></text>
<text class="k" text-anchor="middle" transform="translate(1381.1 2406.2) scale(0.96 1)">0</text>
<text class="k" text-anchor="middle" transform="translate(1581.9 2406.2) scale(0.96 1)"><tspan class="one">1</tspan></text>
<text class="l" x="1381.7" y="2451.2">Frequency (Hz)</text>
<text class="l" style="font-size:37.6px" transform="translate(960.5 2074.1) rotate(-90)">Power (dB)</text>
<text class="k" style="font-size:36.6px" x="1080.5" y="1853.6">(f)</text>
<path class="cv" d="M1054.5 2267.1L1056.1 2235.7Q1056.2 2233.2 1056.5 2230.7L1058.1 2218.6Q1058.3 2217.5 1059.2 2216.9L1059.4 2216.8Q1060.7 2215.5 1060.5 2217.3L1061.9 2230.7Q1062.2 2233.2 1062.3 2235.7L1064.0 2290.5Q1063.7 2293.1 1064.9 2290.7L1065.5 2289.8Q1066.6 2288.0 1067.1 2286.0L1068.1 2280.9Q1069.5 2270.2 1069.9 2280.9L1071.7 2297.0Q1071.9 2299.7 1071.9 2297.0L1073.8 2256.6Q1074.0 2254.1 1074.2 2251.6L1076.3 2233.1Q1076.6 2230.6 1077.9 2228.4L1078.3 2227.7Q1080.2 2223.3 1079.8 2228.1L1081.8 2298.3Q1081.8 2301.0 1081.9 2298.3L1084.3 2263.2Q1084.4 2261.9 1085.6 2261.3L1085.8 2261.2Q1087.0 2260.6 1088.2 2260.0L1088.5 2259.9Q1089.6 2259.3 1089.7 2258.0L1092.2 2222.7Q1091.8 2220.7 1093.4 2222.0L1093.7 2222.1Q1094.9 2222.7 1095.2 2224.0L1097.1 2230.4Q1097.5 2233.0 1097.8 2230.4L1099.8 2222.7Q1100.1 2221.4 1101.3 2220.8L1101.5 2220.7Q1103.0 2219.4 1103.0 2221.4L1105.0 2229.3Q1105.3 2230.6 1106.5 2231.2L1106.7 2231.3Q1107.9 2231.9 1108.7 2233.0L1109.7 2234.5Q1110.4 2236.7 1111.6 2234.7L1112.0 2234.4Q1113.1 2233.2 1113.5 2231.6L1115.0 2223.8Q1115.6 2217.3 1116.9 2223.6L1117.6 2225.6Q1118.4 2228.0 1118.6 2230.4L1120.3 2251.6Q1120.5 2254.1 1120.6 2256.6L1122.2 2290.5Q1122.3 2293.2 1122.4 2290.5L1124.7 2261.8Q1124.9 2259.3 1125.2 2256.8L1127.2 2238.3Q1127.5 2235.8 1128.1 2233.4L1130.8 2222.5Q1131.4 2220.1 1132.1 2217.7L1133.8 2211.5Q1135.6 2201.1 1136.4 2211.7L1137.5 2217.7Q1138.0 2220.1 1138.1 2222.6L1140.4 2256.8Q1140.6 2259.3 1140.8 2261.8L1143.5 2296.0Q1143.7 2298.5 1143.8 2301.0L1145.0 2358.6Q1144.7 2359.6 1145.7 2359.3L1145.9 2359.3Q1146.9 2359.6 1146.6 2358.6L1147.8 2301.0Q1147.9 2298.5 1148.0 2296.0L1149.6 2248.7Q1149.7 2246.2 1149.9 2243.8L1152.2 2213.9Q1152.3 2212.3 1153.5 2211.1L1153.8 2210.8Q1154.8 2209.0 1156.5 2210.2L1157.4 2210.5Q1159.3 2211.7 1159.3 2209.5L1160.8 2204.2Q1161.5 2201.8 1162.1 2199.4L1163.5 2193.8Q1164.1 2191.4 1165.0 2189.1L1165.5 2187.8Q1166.8 2182.5 1167.6 2187.9L1168.6 2191.6Q1169.3 2194.0 1170.2 2196.3L1171.4 2199.1Q1171.9 2201.6 1172.6 2199.2L1173.8 2196.9Q1175.6 2191.5 1176.1 2197.2L1177.9 2204.6Q1178.5 2207.1 1179.1 2209.5L1180.7 2214.8Q1181.1 2217.4 1181.3 2214.7L1183.3 2201.9Q1183.3 2197.2 1185.1 2201.6L1185.5 2202.3Q1186.8 2204.4 1188.7 2206.0L1189.6 2206.8Q1191.5 2208.4 1191.9 2210.8L1193.8 2223.2Q1194.1 2225.3 1195.3 2227.1L1195.9 2228.0Q1197.0 2230.4 1196.9 2227.8L1199.2 2196.5Q1199.4 2194.0 1199.9 2191.6L1200.8 2187.5Q1202.2 2178.0 1202.6 2187.6L1204.3 2202.0Q1204.6 2204.4 1204.8 2206.9L1207.1 2238.2Q1207.1 2240.9 1207.5 2238.3L1208.7 2233.0Q1209.3 2230.6 1209.7 2228.1L1210.9 2220.8Q1212.2 2210.1 1212.1 2220.9L1214.5 2281.3Q1214.5 2284.0 1214.6 2281.3L1217.1 2196.5Q1217.1 2194.0 1217.5 2191.5L1218.8 2184.2Q1219.9 2173.6 1220.3 2184.3L1222.1 2204.6Q1222.4 2207.1 1222.5 2209.6L1224.9 2263.0Q1224.9 2265.7 1225.1 2263.0L1227.2 2231.3Q1227.4 2220.6 1228.3 2231.3L1229.9 2243.8Q1230.2 2246.2 1230.3 2248.7L1232.5 2291.8Q1232.6 2294.5 1232.6 2291.8L1234.6 2222.6Q1234.6 2220.1 1234.8 2217.6L1237.1 2189.1Q1237.2 2187.5 1238.8 2186.9L1239.1 2186.7Q1240.6 2186.2 1241.8 2185.0L1242.1 2184.7Q1243.2 2183.5 1243.4 2181.9L1244.9 2165.1Q1245.1 2162.6 1245.4 2160.2L1247.4 2144.2Q1247.7 2141.7 1248.3 2139.3L1249.4 2135.3Q1250.9 2125.8 1252.1 2135.3L1253.1 2139.3Q1253.7 2141.7 1253.8 2144.2L1256.2 2186.3Q1256.3 2188.8 1256.4 2191.3L1258.6 2231.7Q1258.7 2234.4 1258.7 2231.7L1260.6 2196.5Q1260.8 2194.0 1261.0 2191.5L1262.8 2169.9Q1263.4 2159.2 1263.8 2169.9L1265.8 2196.7Q1266.0 2199.2 1266.1 2201.7L1268.5 2253.9Q1268.6 2256.6 1268.7 2253.9L1270.3 2213.3Q1270.1 2206.8 1271.4 2213.2L1272.1 2216.1Q1272.6 2218.7 1272.7 2216.0L1274.8 2201.7Q1275.1 2199.2 1275.2 2196.7L1277.1 2144.2Q1277.2 2141.7 1277.4 2139.2L1278.9 2112.9Q1279.0 2110.4 1279.3 2107.9L1281.4 2089.4Q1281.7 2086.9 1282.1 2084.4L1284.9 2067.1Q1285.3 2060.5 1287.0 2066.9L1287.8 2068.9Q1288.7 2071.2 1289.1 2073.7L1291.1 2088.0Q1291.3 2090.7 1291.5 2088.0L1293.6 2073.7Q1293.9 2071.2 1294.3 2068.7L1296.6 2050.4Q1296.3 2048.4 1298.2 2049.0L1298.5 2049.0Q1300.2 2048.5 1300.7 2050.2L1302.6 2053.4Q1303.9 2055.5 1304.3 2058.0L1306.8 2072.7Q1306.6 2074.3 1308.2 2073.8L1308.4 2073.8Q1310.0 2074.3 1309.7 2072.6L1311.6 2038.9Q1311.7 2037.2 1312.9 2036.1L1313.1 2035.8Q1314.7 2033.5 1314.4 2036.3L1317.4 2097.1Q1317.5 2099.8 1317.5 2097.1L1319.0 2013.6Q1319.0 2011.1 1319.1 2008.6L1320.8 1909.1Q1320.8 1906.6 1321.0 1904.1L1323.9 1843.8Q1324.0 1841.3 1324.1 1838.8L1326.4 1804.6Q1326.6 1802.1 1327.2 1799.7L1327.7 1797.5Q1328.7 1790.8 1329.6 1797.5L1330.7 1802.3Q1331.3 1804.7 1331.5 1807.2L1334.5 1838.8Q1334.7 1841.3 1334.8 1843.8L1337.7 1904.1Q1337.8 1906.6 1338.0 1909.1L1341.6 1969.4Q1341.7 1971.9 1341.9 1974.4L1345.0 2016.2Q1345.1 2018.8 1345.2 2016.2L1347.6 1983.8Q1347.7 1982.4 1348.6 1981.2L1348.8 1980.9Q1349.8 1978.7 1349.8 1981.2L1351.8 1995.6Q1352.2 1998.1 1352.7 2000.5L1354.4 2008.2Q1354.8 2009.8 1356.0 2011.0L1356.4 2011.4Q1357.2 2012.9 1358.9 2012.4L1359.6 2012.4Q1361.8 2011.8 1362.0 2014.1L1363.0 2016.6Q1363.9 2019.0 1364.2 2021.5L1366.4 2047.8Q1366.6 2050.3 1366.7 2052.8L1368.6 2097.1Q1368.7 2099.8 1368.7 2097.1L1371.2 2005.8Q1371.3 2003.3 1372.2 2001.0L1373.0 1999.0Q1374.8 1992.5 1374.8 1999.2L1376.7 2016.5Q1377.0 2019.0 1377.4 2021.4L1379.3 2034.8Q1379.6 2037.2 1379.8 2039.7L1382.2 2071.6Q1381.9 2072.9 1383.2 2072.5L1383.4 2072.5Q1384.7 2072.9 1384.4 2071.6L1386.6 2026.3Q1386.9 2015.5 1387.3 2026.3L1389.4 2060.9Q1389.5 2063.4 1389.7 2065.9L1392.1 2101.1Q1392.1 2103.8 1392.4 2101.1L1394.4 2086.7Q1394.8 2084.3 1394.9 2081.8L1397.3 2013.6Q1397.4 2011.1 1397.5 2008.6L1399.9 1948.3Q1400.0 1945.8 1400.6 1943.4L1401.5 1940.1Q1402.9 1931.6 1403.2 1940.2L1405.0 1956.4Q1405.3 1958.9 1405.4 1961.4L1407.7 2008.6Q1407.9 2011.1 1407.9 2013.6L1409.9 2125.9Q1409.8 2128.6 1410.3 2125.9L1412.0 2118.1Q1412.6 2115.6 1412.6 2113.1L1414.6 2008.4Q1414.7 2005.9 1415.2 2003.4L1416.1 1998.7Q1417.4 1988.1 1418.3 1998.7L1419.5 2006.0Q1419.9 2008.5 1420.3 2011.0L1422.8 2027.9Q1423.1 2030.6 1423.1 2027.9L1425.5 1995.3Q1425.6 1992.8 1426.0 1990.4L1428.4 1974.4Q1428.8 1971.9 1429.9 1969.7L1431.2 1967.3Q1432.1 1963.9 1433.3 1967.2L1433.6 1967.6Q1434.8 1969.3 1435.2 1971.4L1437.6 1983.5Q1438.0 1986.2 1438.1 1983.5L1440.2 1966.6Q1440.5 1964.1 1441.5 1961.8L1442.4 1959.5Q1444.2 1952.6 1444.7 1959.7L1446.1 1966.9Q1446.5 1969.3 1446.9 1971.8L1450.3 1997.9Q1450.5 2000.6 1450.6 1997.9L1452.8 1979.6Q1453.1 1977.2 1453.4 1974.7L1455.6 1960.1Q1456.2 1950.0 1457.9 1960.0L1459.0 1964.3Q1459.6 1966.7 1459.9 1969.2L1463.2 1995.6Q1463.5 1998.1 1463.7 2000.6L1466.0 2032.1Q1466.1 2034.6 1466.8 2037.0L1468.3 2042.3Q1468.8 2045.0 1468.9 2042.3L1471.1 2021.4Q1471.4 2019.0 1471.8 2016.5L1473.5 2008.0Q1474.4 1999.5 1475.7 2008.0L1476.5 2011.3Q1477.1 2013.7 1477.4 2016.2L1479.0 2033.1Q1479.2 2035.8 1479.4 2033.1L1482.2 2013.6Q1482.6 2011.1 1483.3 2008.7L1484.9 2003.5Q1484.9 1999.5 1488.7 2000.7L1490.8 2000.7Q1492.7 2001.3 1492.6 1999.2L1494.3 1992.6Q1494.9 1990.2 1494.9 1987.7L1496.6 1909.1Q1496.7 1906.6 1496.8 1904.1L1498.7 1843.8Q1498.8 1841.3 1499.0 1838.8L1501.2 1804.6Q1501.4 1802.1 1502.4 1799.8L1502.8 1799.0Q1504.2 1794.2 1504.7 1799.1L1506.0 1804.9Q1506.6 1807.3 1506.8 1809.8L1509.6 1846.7Q1509.8 1849.1 1509.9 1851.6L1513.0 1904.1Q1513.2 1906.6 1513.3 1909.1L1516.9 1982.5Q1517.1 1985.0 1517.2 1987.5L1520.4 2041.0Q1520.4 2043.7 1520.7 2041.0L1522.5 2026.7Q1522.8 2024.2 1523.9 2021.9L1524.3 2021.3Q1525.7 2017.0 1526.0 2021.5L1527.8 2029.4Q1528.0 2030.7 1529.2 2031.3L1529.5 2031.4Q1530.7 2032.0 1530.7 2033.3L1533.1 2073.9Q1533.3 2076.4 1533.7 2078.9L1535.7 2091.9Q1535.9 2094.6 1536.1 2091.9L1538.3 2076.4Q1538.1 2074.4 1539.7 2075.7L1539.9 2075.8Q1541.5 2077.2 1541.2 2075.1L1543.5 2050.0Q1543.7 2047.7 1545.2 2045.9L1545.6 2045.5Q1547.4 2042.2 1547.9 2046.0L1549.6 2050.6Q1550.5 2052.9 1550.6 2055.4L1552.2 2087.0Q1552.3 2089.5 1552.4 2092.0L1554.1 2135.0Q1554.2 2137.7 1554.3 2135.0L1556.6 2092.0Q1556.8 2089.5 1557.2 2087.0L1559.0 2074.8Q1558.9 2070.9 1560.9 2074.3L1561.3 2074.7Q1562.8 2076.4 1563.3 2078.7L1566.6 2092.3Q1567.2 2094.7 1567.3 2097.2L1569.8 2165.1Q1569.8 2167.8 1569.9 2165.1L1572.3 2131.2Q1572.5 2128.7 1572.9 2126.2L1574.3 2117.8Q1574.9 2109.2 1576.2 2117.7L1577.1 2121.0Q1577.7 2123.5 1577.8 2126.0L1580.1 2165.4Q1580.3 2167.9 1580.5 2170.4L1582.2 2187.3Q1582.4 2190.0 1582.5 2187.3L1584.7 2143.2Q1584.7 2133.6 1585.9 2143.1L1586.6 2147.1Q1587.1 2149.6 1587.2 2152.1L1588.8 2204.6Q1588.9 2207.1 1589.0 2209.6L1592.2 2273.5Q1592.3 2276.2 1592.4 2273.5L1594.8 2222.6Q1594.9 2220.1 1595.2 2217.6L1597.4 2193.2Q1597.5 2191.4 1598.9 2190.2L1599.3 2189.9Q1600.7 2188.8 1601.7 2187.3L1603.1 2185.2Q1605.9 2179.6 1605.2 2185.8L1607.7 2270.9Q1607.7 2273.6 1607.8 2270.9L1610.3 2170.4Q1610.3 2167.9 1610.6 2165.4L1613.1 2143.8Q1613.7 2133.1 1614.5 2143.8L1615.5 2152.3Q1615.8 2154.8 1615.9 2157.3L1618.4 2233.0Q1618.4 2235.7 1618.6 2233.0L1620.7 2217.4Q1621.0 2214.9 1621.8 2212.5L1622.9 2209.4Q1623.7 2207.1 1624.2 2204.6L1625.1 2199.9Q1626.4 2189.3 1627.0 2199.9L1628.6 2212.4Q1628.9 2214.9 1629.2 2217.4L1631.3 2233.0Q1631.5 2235.7 1631.6 2233.0L1633.8 2186.9Q1634.0 2176.1 1634.8 2186.9L1636.4 2202.0Q1636.7 2204.4 1637.0 2206.9L1639.2 2226.5Q1639.4 2229.2 1639.4 2226.5L1641.1 2177.5Q1641.2 2175.7 1642.6 2174.5L1642.9 2174.3Q1644.8 2171.9 1644.5 2174.9L1647.0 2204.6Q1647.2 2207.1 1647.2 2209.6L1648.7 2358.6Q1648.5 2359.6 1649.4 2359.3L1649.6 2359.3Q1650.6 2359.6 1650.3 2358.6L1651.6 2209.7Q1651.2 2205.1 1652.8 2209.4L1653.1 2210.0Q1654.2 2212.3 1654.7 2214.7L1656.3 2222.9Q1656.8 2225.3 1657.1 2227.8L1659.3 2249.6Q1659.5 2251.5 1660.9 2252.6L1661.4 2253.1Q1663.0 2255.1 1662.7 2252.6L1665.1 2201.7Q1665.2 2199.2 1665.6 2196.7L1666.9 2188.2Q1667.9 2177.5 1668.4 2188.2L1670.2 2204.6Q1670.4 2207.1 1670.6 2209.6L1672.9 2243.7Q1673.0 2246.2 1673.3 2248.7L1675.0 2263.0Q1675.1 2265.7 1675.3 2263.0L1677.4 2248.7Q1677.7 2246.2 1678.4 2243.8L1680.5 2235.6Q1681.1 2233.2 1682.4 2231.0L1684.3 2227.5Q1685.6 2225.3 1686.0 2222.9L1689.1 2206.5Q1689.5 2204.4 1690.7 2202.7L1690.9 2202.3Q1692.4 2199.0 1692.5 2202.6L1694.3 2212.4Q1694.7 2214.9 1695.1 2217.4L1698.4 2242.1Q1698.7 2244.8 1698.8 2242.1L1701.1 2221.8Q1701.3 2220.1 1702.4 2218.9L1702.7 2218.7Q1704.3 2216.4 1704.0 2219.2L1706.4 2261.7Q1706.5 2264.4 1706.5 2261.7L1708.3 2220.1"/>
</g>
</g></svg></body></html>
